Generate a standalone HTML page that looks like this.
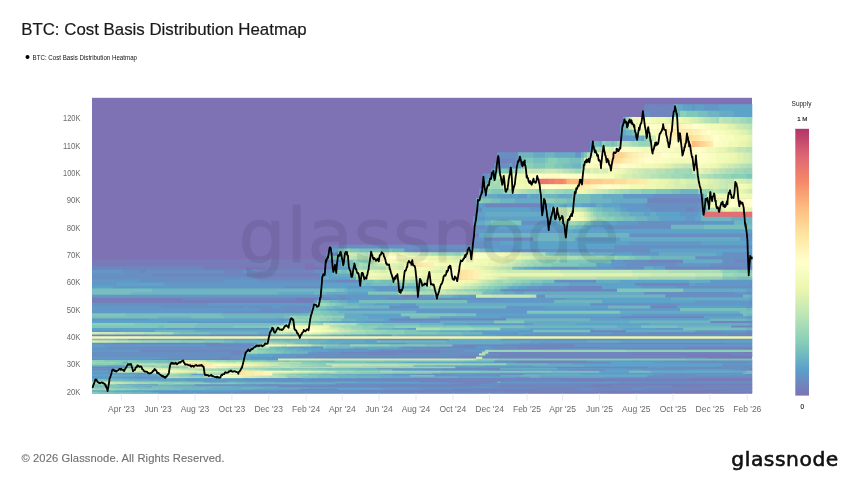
<!DOCTYPE html>
<html><head><meta charset="utf-8"><title>BTC: Cost Basis Distribution Heatmap</title>
<style>html,body{margin:0;padding:0;background:#fff}svg{display:block}text{font-family:"Liberation Sans",sans-serif}text.dj{font-family:"DejaVu Sans","Liberation Sans",sans-serif}</style></head>
<body><svg width="860" height="484" viewBox="0 0 860 484">
<defs><linearGradient id="cb" x1="0" y1="0" x2="0" y2="1"><stop offset="0%" stop-color="#b13468"/><stop offset="10%" stop-color="#dd6572"/><stop offset="20%" stop-color="#f68a69"/><stop offset="30%" stop-color="#fdbe81"/><stop offset="40%" stop-color="#fee6a2"/><stop offset="50%" stop-color="#ffffcc"/><stop offset="60%" stop-color="#ebf7ad"/><stop offset="70%" stop-color="#bce4b6"/><stop offset="80%" stop-color="#85ceb7"/><stop offset="90%" stop-color="#5ba0ca"/><stop offset="100%" stop-color="#7e72b5"/></linearGradient></defs>
<rect width="860" height="484" fill="#fff"/>
<text x="21.2" y="34.7" font-size="17" fill="#1a1a1a" stroke="#1a1a1a" stroke-width="0.2" textLength="285.5" lengthAdjust="spacingAndGlyphs">BTC: Cost Basis Distribution Heatmap</text>
<circle cx="27.5" cy="57.0" r="2.0" fill="#000"/>
<text x="32.6" y="60.0" font-size="7.6" fill="#111" textLength="104.4" lengthAdjust="spacingAndGlyphs">BTC: Cost Basis Distribution Heatmap</text>
<g>
<rect x="92.0" y="97.8" width="660.0" height="295.8" fill="#7e72b5"/>
<path fill="#777cb9" d="M605.0 392.59H752.3V393.60H605.0zM527.0 391.57H752.3V393.04H527.0zM599.0 390.52H719.3V392.02H599.0zM488.0 389.46H578.3V390.97H488.0zM677.0 389.46H728.3V390.97H677.0zM749.0 387.26H752.3V388.82H749.0zM590.0 384.99H611.3V386.58H590.0zM671.0 384.99H704.3V386.58H671.0zM593.0 383.81H752.3V385.44H593.0zM443.0 380.17H449.3V381.86H443.0zM566.0 380.17H605.3V381.86H566.0zM689.0 380.17H752.3V381.86H689.0zM560.0 378.90H752.3V380.62H560.0zM689.0 377.62H752.3V379.35H689.0zM539.0 356.80H680.3V358.93H539.0zM686.0 355.10H752.3V357.25H686.0zM632.0 353.36H731.3V355.55H632.0zM743.0 351.58H752.3V353.81H743.0zM746.0 347.93H752.3V350.23H746.0zM92.0 300.04H314.3V303.23H92.0zM92.0 297.25H182.3V300.49H92.0zM296.0 297.25H317.3V300.49H296.0zM245.0 272.95H320.3V276.64H245.0zM203.0 266.28H245.3V270.10H203.0zM266.0 266.28H305.3V270.10H266.0zM323.0 266.28H332.3V270.10H323.0zM92.0 262.85H305.3V266.73H92.0zM314.0 262.85H323.3V266.73H314.0zM92.0 259.35H323.3V263.30H92.0z"/>
<path fill="#7085be" d="M341.0 392.59H359.3V393.60H341.0zM506.0 392.59H605.3V393.60H506.0zM383.0 391.57H527.3V393.04H383.0zM155.0 390.52H179.3V392.02H155.0zM338.0 390.52H599.3V392.02H338.0zM719.0 390.52H752.3V392.02H719.0zM362.0 389.46H488.3V390.97H362.0zM578.0 389.46H677.3V390.97H578.0zM728.0 389.46H752.3V390.97H728.0zM299.0 388.37H338.3V389.91H299.0zM452.0 388.37H578.3V389.91H452.0zM593.0 388.37H632.3V389.91H593.0zM641.0 388.37H752.3V389.91H641.0zM536.0 387.26H629.3V388.82H536.0zM650.0 387.26H749.3V388.82H650.0zM278.0 386.13H386.3V387.71H278.0zM494.0 386.13H644.3V387.71H494.0zM671.0 386.13H752.3V387.71H671.0zM329.0 384.99H338.3V386.58H329.0zM377.0 384.99H590.3V386.58H377.0zM611.0 384.99H671.3V386.58H611.0zM704.0 384.99H752.3V386.58H704.0zM260.0 383.81H281.3V385.44H260.0zM335.0 383.81H479.3V385.44H335.0zM500.0 383.81H593.3V385.44H500.0zM464.0 382.62H494.3V384.26H464.0zM617.0 382.62H752.3V384.26H617.0zM449.0 381.41H497.3V383.07H449.0zM380.0 380.17H443.3V381.86H380.0zM449.0 380.17H566.3V381.86H449.0zM605.0 380.17H689.3V381.86H605.0zM308.0 378.90H560.3V380.62H308.0zM407.0 377.62H689.3V379.35H407.0zM92.0 376.31H110.3V378.07H92.0zM128.0 376.31H161.3V378.07H128.0zM92.0 372.22H110.3V374.06H92.0zM107.0 369.36H110.3V371.26H107.0zM569.0 369.36H605.3V371.26H569.0zM443.0 367.90H500.3V369.81H443.0zM749.0 367.90H752.3V369.81H749.0zM92.0 366.40H119.3V368.35H92.0zM557.0 366.40H647.3V368.35H557.0zM716.0 366.40H722.3V368.35H716.0zM515.0 361.74H611.3V363.77H515.0zM494.0 360.12H587.3V362.19H494.0zM152.0 358.48H239.3V360.57H152.0zM221.0 356.80H230.3V358.93H221.0zM272.0 356.80H275.3V358.93H272.0zM314.0 356.80H476.3V358.93H314.0zM482.0 356.80H539.3V358.93H482.0zM680.0 356.80H707.3V358.93H680.0zM458.0 355.10H686.3V357.25H458.0zM230.0 353.36H242.3V355.55H230.0zM368.0 353.36H395.3V355.55H368.0zM500.0 353.36H632.3V355.55H500.0zM731.0 353.36H752.3V355.55H731.0zM230.0 351.58H245.3V353.81H230.0zM341.0 351.58H440.3V353.81H341.0zM479.0 351.58H482.3V353.81H479.0zM488.0 351.58H743.3V353.81H488.0zM140.0 349.78H245.3V352.03H140.0zM380.0 349.78H440.3V352.03H380.0zM494.0 347.93H560.3V350.23H494.0zM623.0 347.93H746.3V350.23H623.0zM440.0 346.06H476.3V348.38H440.0zM518.0 346.06H602.3V348.38H518.0zM686.0 346.06H752.3V348.38H686.0zM206.0 344.15H254.3V346.51H206.0zM464.0 344.15H575.3V346.51H464.0zM113.0 342.20H188.3V344.60H113.0zM200.0 342.20H221.3V344.60H200.0zM617.0 342.20H725.3V344.60H617.0zM377.0 338.19H449.3V340.66H377.0zM551.0 338.19H626.3V340.66H551.0zM92.0 334.03H149.3V336.58H92.0zM206.0 334.03H269.3V336.58H206.0zM728.0 334.03H752.3V336.58H728.0zM647.0 331.88H722.3V334.48H647.0zM746.0 331.88H752.3V334.48H746.0zM590.0 329.70H626.3V332.33H590.0zM731.0 325.21H752.3V327.93H731.0zM710.0 320.55H752.3V323.35H710.0zM389.0 318.15H506.3V321.00H389.0zM620.0 315.71H704.3V318.60H620.0zM650.0 305.46H677.3V308.55H650.0zM182.0 297.25H296.3V300.49H182.0zM317.0 297.25H329.3V300.49H317.0zM341.0 297.25H344.3V300.49H341.0zM401.0 294.41H416.3V297.70H401.0zM512.0 288.57H617.3V291.97H512.0zM566.0 285.56H602.3V289.02H566.0zM635.0 282.50H689.3V286.01H635.0zM335.0 279.37H356.3V282.95H335.0zM593.0 279.37H596.3V282.95H593.0zM254.0 276.19H320.3V279.82H254.0zM152.0 272.95H245.3V276.64H152.0zM140.0 269.65H146.3V273.40H140.0zM224.0 269.65H242.3V273.40H224.0zM257.0 269.65H314.3V273.40H257.0zM92.0 266.28H203.3V270.10H92.0zM332.0 266.28H335.3V270.10H332.0zM665.0 266.28H752.3V270.10H665.0zM323.0 262.85H332.3V266.73H323.0zM323.0 259.35H326.3V263.30H323.0zM647.0 259.35H683.3V263.30H647.0zM734.0 259.35H746.3V263.30H734.0zM329.0 252.16H335.3V256.24H329.0zM413.0 248.46H467.3V252.61H413.0zM518.0 248.46H536.3V252.61H518.0zM329.0 244.69H344.3V248.91H329.0zM485.0 236.93H533.3V241.30H485.0zM473.0 232.94H479.3V237.38H473.0zM476.0 207.36H482.3V212.28H476.0zM686.0 207.36H695.3V212.28H686.0zM485.0 202.81H542.3V207.81H485.0zM647.0 198.17H704.3V203.26H647.0zM512.0 163.12H515.3V168.87H512.0zM497.0 157.73H515.3V163.57H497.0zM650.0 110.71H671.3V117.43H650.0zM644.0 104.31H674.3V111.16H644.0z"/>
<path fill="#688fc2" d="M191.0 392.59H341.3V393.60H191.0zM359.0 392.59H506.3V393.60H359.0zM203.0 391.57H383.3V393.04H203.0zM125.0 390.52H155.3V392.02H125.0zM242.0 390.52H338.3V392.02H242.0zM278.0 389.46H362.3V390.97H278.0zM419.0 388.37H452.3V389.91H419.0zM578.0 388.37H593.3V389.91H578.0zM632.0 388.37H641.3V389.91H632.0zM416.0 387.26H536.3V388.82H416.0zM629.0 387.26H650.3V388.82H629.0zM386.0 386.13H470.3V387.71H386.0zM644.0 386.13H671.3V387.71H644.0zM257.0 384.99H329.3V386.58H257.0zM338.0 384.99H377.3V386.58H338.0zM194.0 383.81H260.3V385.44H194.0zM281.0 383.81H335.3V385.44H281.0zM479.0 383.81H500.3V385.44H479.0zM449.0 382.62H464.3V384.26H449.0zM494.0 382.62H617.3V384.26H494.0zM419.0 381.41H449.3V383.07H419.0zM617.0 381.41H752.3V383.07H617.0zM269.0 380.17H380.3V381.86H269.0zM197.0 378.90H308.3V380.62H197.0zM290.0 377.62H302.3V379.35H290.0zM356.0 377.62H407.3V379.35H356.0zM110.0 376.31H128.3V378.07H110.0zM647.0 376.31H752.3V378.07H647.0zM494.0 374.97H500.3V376.76H494.0zM647.0 374.97H752.3V376.76H647.0zM416.0 373.61H455.3V375.42H416.0zM476.0 373.61H524.3V375.42H476.0zM662.0 373.61H695.3V375.42H662.0zM746.0 373.61H752.3V375.42H746.0zM140.0 372.22H143.3V374.06H140.0zM524.0 372.22H545.3V374.06H524.0zM695.0 372.22H743.3V374.06H695.0zM92.0 369.36H107.3V371.26H92.0zM110.0 369.36H113.3V371.26H110.0zM488.0 369.36H521.3V371.26H488.0zM740.0 369.36H752.3V371.26H740.0zM92.0 367.90H113.3V369.81H92.0zM377.0 367.90H443.3V369.81H377.0zM626.0 367.90H749.3V369.81H626.0zM119.0 366.40H125.3V368.35H119.0zM554.0 366.40H557.3V368.35H554.0zM665.0 366.40H716.3V368.35H665.0zM722.0 366.40H752.3V368.35H722.0zM722.0 364.87H752.3V366.85H722.0zM689.0 361.74H749.3V363.77H689.0zM632.0 360.12H638.3V362.19H632.0zM662.0 360.12H752.3V362.19H662.0zM92.0 358.48H152.3V360.57H92.0zM167.0 356.80H221.3V358.93H167.0zM230.0 356.80H242.3V358.93H230.0zM251.0 356.80H272.3V358.93H251.0zM275.0 356.80H314.3V358.93H275.0zM92.0 355.10H242.3V357.25H92.0zM296.0 355.10H458.3V357.25H296.0zM92.0 353.36H230.3V355.55H92.0zM242.0 353.36H245.3V355.55H242.0zM305.0 353.36H368.3V355.55H305.0zM395.0 353.36H479.3V355.55H395.0zM485.0 353.36H500.3V355.55H485.0zM92.0 351.58H230.3V353.81H92.0zM317.0 351.58H341.3V353.81H317.0zM440.0 351.58H479.3V353.81H440.0zM368.0 349.78H380.3V352.03H368.0zM440.0 349.78H464.3V352.03H440.0zM92.0 347.93H248.3V350.23H92.0zM347.0 347.93H368.3V350.23H347.0zM413.0 347.93H494.3V350.23H413.0zM560.0 347.93H623.3V350.23H560.0zM107.0 346.06H251.3V348.38H107.0zM311.0 346.06H323.3V348.38H311.0zM401.0 346.06H440.3V348.38H401.0zM491.0 346.06H518.3V348.38H491.0zM602.0 346.06H686.3V348.38H602.0zM452.0 344.15H464.3V346.51H452.0zM92.0 342.20H113.3V344.60H92.0zM188.0 342.20H200.3V344.60H188.0zM539.0 342.20H617.3V344.60H539.0zM725.0 342.20H752.3V344.60H725.0zM503.0 338.19H551.3V340.66H503.0zM626.0 338.19H752.3V340.66H626.0zM149.0 334.03H206.3V336.58H149.0zM269.0 334.03H272.3V336.58H269.0zM524.0 334.03H728.3V336.58H524.0zM512.0 331.88H518.3V334.48H512.0zM611.0 331.88H647.3V334.48H611.0zM722.0 331.88H746.3V334.48H722.0zM746.0 329.70H752.3V332.33H746.0zM224.0 310.68H302.3V313.67H224.0zM260.0 308.10H311.3V311.13H260.0zM161.0 305.46H245.3V308.55H161.0zM248.0 305.46H272.3V308.55H248.0zM281.0 305.46H311.3V308.55H281.0zM389.0 305.46H419.3V308.55H389.0zM92.0 302.78H209.3V305.91H92.0zM311.0 302.78H314.3V305.91H311.0zM590.0 302.78H680.3V305.91H590.0zM749.0 302.78H752.3V305.91H749.0zM749.0 300.04H752.3V303.23H749.0zM329.0 297.25H341.3V300.49H329.0zM344.0 297.25H350.3V300.49H344.0zM389.0 297.25H497.3V300.49H389.0zM338.0 294.41H347.3V297.70H338.0zM416.0 294.41H422.3V297.70H416.0zM536.0 294.41H545.3V297.70H536.0zM665.0 294.41H743.3V297.70H665.0zM644.0 291.52H734.3V294.86H644.0zM746.0 291.52H752.3V294.86H746.0zM503.0 288.57H512.3V291.97H503.0zM284.0 285.56H320.3V289.02H284.0zM539.0 285.56H566.3V289.02H539.0zM677.0 285.56H752.3V289.02H677.0zM749.0 282.50H752.3V286.01H749.0zM140.0 279.37H224.3V282.95H140.0zM257.0 279.37H320.3V282.95H257.0zM323.0 279.37H335.3V282.95H323.0zM356.0 279.37H359.3V282.95H356.0zM554.0 279.37H593.3V282.95H554.0zM92.0 276.19H254.3V279.82H92.0zM92.0 272.95H152.3V276.64H92.0zM320.0 272.95H323.3V276.64H320.0zM122.0 269.65H140.3V273.40H122.0zM146.0 269.65H224.3V273.40H146.0zM242.0 269.65H257.3V273.40H242.0zM314.0 269.65H323.3V273.40H314.0zM551.0 266.28H578.3V270.10H551.0zM614.0 266.28H644.3V270.10H614.0zM332.0 262.85H335.3V266.73H332.0zM626.0 262.85H677.3V266.73H626.0zM710.0 262.85H749.3V266.73H710.0zM326.0 259.35H332.3V263.30H326.0zM623.0 259.35H647.3V263.30H623.0zM722.0 259.35H734.3V263.30H722.0zM746.0 259.35H749.3V263.30H746.0zM695.0 255.79H749.3V259.80H695.0zM326.0 252.16H329.3V256.24H326.0zM335.0 252.16H338.3V256.24H335.0zM722.0 252.16H749.3V256.24H722.0zM404.0 248.46H413.3V252.61H404.0zM509.0 248.46H518.3V252.61H509.0zM536.0 248.46H650.3V252.61H536.0zM344.0 244.69H485.3V248.91H344.0zM614.0 244.69H752.3V248.91H614.0zM473.0 240.85H485.3V245.14H473.0zM629.0 232.94H752.3V237.38H629.0zM473.0 224.74H485.3V229.33H473.0zM608.0 224.74H671.3V229.33H608.0zM521.0 220.51H548.3V225.19H521.0zM638.0 220.51H704.3V225.19H638.0zM650.0 207.36H686.3V212.28H650.0zM695.0 207.36H701.3V212.28H695.0zM644.0 202.81H698.3V207.81H644.0zM653.0 193.44H698.3V198.62H653.0zM482.0 173.61H488.3V179.16H482.0zM494.0 163.12H509.3V168.87H494.0zM515.0 157.73H518.3V163.57H515.0zM497.0 152.23H518.3V158.18H497.0zM590.0 140.92H593.3V147.08H590.0zM641.0 110.71H650.3V117.43H641.0zM671.0 110.71H674.3V117.43H671.0z"/>
<path fill="#6198c7" d="M158.0 392.59H191.3V393.60H158.0zM152.0 391.57H203.3V393.04H152.0zM101.0 390.52H107.3V392.02H101.0zM110.0 390.52H125.3V392.02H110.0zM179.0 390.52H242.3V392.02H179.0zM182.0 389.46H188.3V390.97H182.0zM236.0 389.46H278.3V390.97H236.0zM383.0 388.37H419.3V389.91H383.0zM380.0 387.26H416.3V388.82H380.0zM470.0 386.13H494.3V387.71H470.0zM197.0 384.99H257.3V386.58H197.0zM137.0 383.81H158.3V385.44H137.0zM335.0 382.62H449.3V384.26H335.0zM203.0 381.41H227.3V383.07H203.0zM500.0 381.41H617.3V383.07H500.0zM245.0 380.17H269.3V381.86H245.0zM185.0 378.90H197.3V380.62H185.0zM92.0 377.62H95.3V379.35H92.0zM137.0 377.62H164.3V379.35H137.0zM209.0 377.62H212.3V379.35H209.0zM257.0 377.62H290.3V379.35H257.0zM311.0 377.62H356.3V379.35H311.0zM515.0 376.31H530.3V378.07H515.0zM605.0 376.31H647.3V378.07H605.0zM434.0 374.97H494.3V376.76H434.0zM137.0 373.61H146.3V375.42H137.0zM386.0 373.61H416.3V375.42H386.0zM455.0 373.61H476.3V375.42H455.0zM653.0 373.61H662.3V375.42H653.0zM695.0 373.61H746.3V375.42H695.0zM110.0 372.22H113.3V374.06H110.0zM128.0 372.22H140.3V374.06H128.0zM143.0 372.22H146.3V374.06H143.0zM500.0 372.22H524.3V374.06H500.0zM602.0 372.22H695.3V374.06H602.0zM107.0 370.81H110.3V372.67H107.0zM422.0 369.36H488.3V371.26H422.0zM521.0 369.36H569.3V371.26H521.0zM641.0 369.36H686.3V371.26H641.0zM734.0 369.36H740.3V371.26H734.0zM113.0 367.90H116.3V369.81H113.0zM557.0 367.90H626.3V369.81H557.0zM455.0 366.40H470.3V368.35H455.0zM476.0 366.40H554.3V368.35H476.0zM647.0 366.40H665.3V368.35H647.0zM722.0 363.32H752.3V365.32H722.0zM473.0 361.74H476.3V363.77H473.0zM491.0 361.74H515.3V363.77H491.0zM653.0 361.74H689.3V363.77H653.0zM749.0 361.74H752.3V363.77H749.0zM587.0 360.12H632.3V362.19H587.0zM638.0 360.12H662.3V362.19H638.0zM239.0 358.48H242.3V360.57H239.0zM266.0 358.48H278.3V360.57H266.0zM92.0 356.80H167.3V358.93H92.0zM272.0 355.10H296.3V357.25H272.0zM275.0 353.36H305.3V355.55H275.0zM308.0 351.58H317.3V353.81H308.0zM92.0 349.78H140.3V352.03H92.0zM245.0 349.78H248.3V352.03H245.0zM329.0 349.78H368.3V352.03H329.0zM464.0 349.78H485.3V352.03H464.0zM320.0 347.93H347.3V350.23H320.0zM377.0 347.93H413.3V350.23H377.0zM92.0 346.06H107.3V348.38H92.0zM299.0 346.06H311.3V348.38H299.0zM476.0 346.06H491.3V348.38H476.0zM104.0 344.15H206.3V346.51H104.0zM575.0 344.15H752.3V346.51H575.0zM221.0 342.20H254.3V344.60H221.0zM377.0 342.20H407.3V344.60H377.0zM521.0 342.20H539.3V344.60H521.0zM185.0 338.19H203.3V340.66H185.0zM257.0 338.19H266.3V340.66H257.0zM500.0 338.19H503.3V340.66H500.0zM290.0 334.03H296.3V336.58H290.0zM368.0 334.03H392.3V336.58H368.0zM497.0 334.03H524.3V336.58H497.0zM482.0 331.88H512.3V334.48H482.0zM530.0 331.88H611.3V334.48H530.0zM92.0 329.70H119.3V332.33H92.0zM518.0 329.70H533.3V332.33H518.0zM695.0 329.70H746.3V332.33H695.0zM167.0 327.48H269.3V330.15H167.0zM656.0 327.48H683.3V330.15H656.0zM467.0 322.90H533.3V325.66H467.0zM167.0 320.55H284.3V323.35H167.0zM365.0 320.55H440.3V323.35H365.0zM92.0 318.15H149.3V321.00H92.0zM278.0 318.15H290.3V321.00H278.0zM404.0 315.71H410.3V318.60H404.0zM500.0 315.71H620.3V318.60H500.0zM746.0 315.71H752.3V318.60H746.0zM632.0 313.22H743.3V316.16H632.0zM92.0 310.68H224.3V313.67H92.0zM302.0 310.68H311.3V313.67H302.0zM416.0 310.68H527.3V313.67H416.0zM92.0 308.10H260.3V311.13H92.0zM347.0 308.10H680.3V311.13H347.0zM92.0 305.46H161.3V308.55H92.0zM245.0 305.46H248.3V308.55H245.0zM272.0 305.46H281.3V308.55H272.0zM506.0 305.46H545.3V308.55H506.0zM746.0 305.46H752.3V308.55H746.0zM209.0 302.78H311.3V305.91H209.0zM401.0 302.78H416.3V305.91H401.0zM680.0 302.78H749.3V305.91H680.0zM314.0 300.04H317.3V303.23H314.0zM467.0 300.04H554.3V303.23H467.0zM695.0 300.04H749.3V303.23H695.0zM350.0 297.25H389.3V300.49H350.0zM497.0 297.25H566.3V300.49H497.0zM92.0 294.41H338.3V297.70H92.0zM347.0 294.41H401.3V297.70H347.0zM422.0 294.41H434.3V297.70H422.0zM470.0 294.41H476.3V297.70H470.0zM734.0 291.52H746.3V294.86H734.0zM377.0 288.57H398.3V291.97H377.0zM500.0 288.57H503.3V291.97H500.0zM113.0 285.56H284.3V289.02H113.0zM347.0 285.56H359.3V289.02H347.0zM371.0 285.56H398.3V289.02H371.0zM527.0 285.56H539.3V289.02H527.0zM641.0 285.56H677.3V289.02H641.0zM92.0 282.50H116.3V286.01H92.0zM164.0 282.50H320.3V286.01H164.0zM695.0 282.50H749.3V286.01H695.0zM92.0 279.37H140.3V282.95H92.0zM224.0 279.37H257.3V282.95H224.0zM320.0 279.37H323.3V282.95H320.0zM710.0 279.37H752.3V282.95H710.0zM320.0 276.19H323.3V279.82H320.0zM92.0 269.65H122.3V273.40H92.0zM338.0 266.28H341.3V270.10H338.0zM539.0 266.28H551.3V270.10H539.0zM578.0 266.28H614.3V270.10H578.0zM335.0 262.85H341.3V266.73H335.0zM611.0 262.85H626.3V266.73H611.0zM677.0 262.85H710.3V266.73H677.0zM749.0 262.85H752.3V266.73H749.0zM332.0 259.35H335.3V263.30H332.0zM611.0 259.35H623.3V263.30H611.0zM749.0 259.35H752.3V263.30H749.0zM632.0 252.16H659.3V256.24H632.0zM749.0 252.16H752.3V256.24H749.0zM500.0 248.46H509.3V252.61H500.0zM485.0 244.69H518.3V248.91H485.0zM485.0 240.85H500.3V245.14H485.0zM629.0 240.85H701.3V245.14H629.0zM473.0 236.93H485.3V241.30H473.0zM575.0 236.93H620.3V241.30H575.0zM740.0 236.93H752.3V241.30H740.0zM476.0 228.88H485.3V233.39H476.0zM488.0 228.88H566.3V233.39H488.0zM485.0 224.74H494.3V229.33H485.0zM593.0 224.74H608.3V229.33H593.0zM548.0 220.51H557.3V225.19H548.0zM617.0 220.51H638.3V225.19H617.0zM704.0 220.51H734.3V225.19H704.0zM473.0 216.21H485.3V220.96H473.0zM686.0 216.21H695.3V220.96H686.0zM680.0 211.83H698.3V216.66H680.0zM530.0 207.36H545.3V212.28H530.0zM626.0 207.36H650.3V212.28H626.0zM476.0 202.81H479.3V207.81H476.0zM482.0 202.81H485.3V207.81H482.0zM542.0 202.81H545.3V207.81H542.0zM590.0 202.81H596.3V207.81H590.0zM620.0 202.81H644.3V207.81H620.0zM698.0 202.81H704.3V207.81H698.0zM509.0 193.44H512.3V198.62H509.0zM518.0 193.44H527.3V198.62H518.0zM623.0 193.44H653.3V198.62H623.0zM698.0 193.44H701.3V198.62H698.0zM479.0 188.62H485.3V193.89H479.0zM488.0 173.61H491.3V179.16H488.0zM491.0 168.42H494.3V174.06H491.0zM515.0 163.12H518.3V168.87H515.0zM575.0 152.23H581.3V158.18H575.0zM620.0 135.10H635.3V141.37H620.0zM692.0 104.31H695.3V111.16H692.0zM704.0 104.31H719.3V111.16H704.0z"/>
<path fill="#5da2c9" d="M149.0 391.57H152.3V393.04H149.0zM92.0 390.52H101.3V392.02H92.0zM107.0 390.52H110.3V392.02H107.0zM152.0 389.46H182.3V390.97H152.0zM188.0 389.46H236.3V390.97H188.0zM254.0 388.37H299.3V389.91H254.0zM338.0 388.37H383.3V389.91H338.0zM308.0 387.26H380.3V388.82H308.0zM176.0 384.99H197.3V386.58H176.0zM125.0 383.81H137.3V385.44H125.0zM275.0 381.41H335.3V383.07H275.0zM356.0 381.41H419.3V383.07H356.0zM185.0 380.17H245.3V381.86H185.0zM149.0 378.90H185.3V380.62H149.0zM95.0 377.62H110.3V379.35H95.0zM122.0 377.62H137.3V379.35H122.0zM185.0 377.62H209.3V379.35H185.0zM212.0 377.62H215.3V379.35H212.0zM242.0 377.62H257.3V379.35H242.0zM302.0 377.62H311.3V379.35H302.0zM161.0 376.31H164.3V378.07H161.0zM458.0 376.31H515.3V378.07H458.0zM539.0 376.31H605.3V378.07H539.0zM92.0 374.97H110.3V376.76H92.0zM134.0 374.97H158.3V376.76H134.0zM392.0 374.97H410.3V376.76H392.0zM92.0 373.61H137.3V375.42H92.0zM146.0 373.61H149.3V375.42H146.0zM191.0 373.61H203.3V375.42H191.0zM380.0 373.61H386.3V375.42H380.0zM581.0 373.61H653.3V375.42H581.0zM113.0 372.22H128.3V374.06H113.0zM440.0 372.22H500.3V374.06H440.0zM545.0 372.22H602.3V374.06H545.0zM92.0 370.81H107.3V372.67H92.0zM599.0 370.81H629.3V372.67H599.0zM113.0 369.36H116.3V371.26H113.0zM392.0 369.36H422.3V371.26H392.0zM605.0 369.36H641.3V371.26H605.0zM686.0 369.36H734.3V371.26H686.0zM125.0 366.40H131.3V368.35H125.0zM470.0 366.40H476.3V368.35H470.0zM107.0 364.87H125.3V366.85H107.0zM485.0 364.87H533.3V366.85H485.0zM584.0 364.87H722.3V366.85H584.0zM572.0 363.32H722.3V365.32H572.0zM404.0 361.74H473.3V363.77H404.0zM476.0 361.74H491.3V363.77H476.0zM611.0 361.74H653.3V363.77H611.0zM242.0 358.48H266.3V360.57H242.0zM242.0 356.80H251.3V358.93H242.0zM248.0 355.10H272.3V357.25H248.0zM257.0 353.36H275.3V355.55H257.0zM311.0 349.78H329.3V352.03H311.0zM302.0 347.93H320.3V350.23H302.0zM368.0 347.93H377.3V350.23H368.0zM251.0 346.06H254.3V348.38H251.0zM290.0 346.06H299.3V348.38H290.0zM398.0 346.06H401.3V348.38H398.0zM92.0 344.15H104.3V346.51H92.0zM254.0 342.20H257.3V344.60H254.0zM341.0 342.20H377.3V344.60H341.0zM503.0 342.20H521.3V344.60H503.0zM365.0 340.21H377.3V342.65H365.0zM530.0 340.21H587.3V342.65H530.0zM620.0 340.21H752.3V342.65H620.0zM128.0 338.19H185.3V340.66H128.0zM224.0 338.19H257.3V340.66H224.0zM329.0 338.19H377.3V340.66H329.0zM272.0 334.03H290.3V336.58H272.0zM344.0 334.03H368.3V336.58H344.0zM464.0 334.03H497.3V336.58H464.0zM518.0 331.88H530.3V334.48H518.0zM119.0 329.70H155.3V332.33H119.0zM470.0 329.70H518.3V332.33H470.0zM92.0 327.48H167.3V330.15H92.0zM407.0 327.48H416.3V330.15H407.0zM530.0 327.48H593.3V330.15H530.0zM623.0 327.48H656.3V330.15H623.0zM443.0 322.90H467.3V325.66H443.0zM575.0 322.90H650.3V325.66H575.0zM749.0 322.90H752.3V325.66H749.0zM92.0 320.55H167.3V323.35H92.0zM284.0 320.55H287.3V323.35H284.0zM341.0 320.55H365.3V323.35H341.0zM149.0 318.15H278.3V321.00H149.0zM383.0 318.15H389.3V321.00H383.0zM590.0 318.15H710.3V321.00H590.0zM368.0 315.71H404.3V318.60H368.0zM440.0 315.71H500.3V318.60H440.0zM704.0 315.71H746.3V318.60H704.0zM362.0 313.22H401.3V316.16H362.0zM476.0 313.22H632.3V316.16H476.0zM335.0 308.10H347.3V311.13H335.0zM311.0 305.46H314.3V308.55H311.0zM545.0 305.46H608.3V308.55H545.0zM677.0 305.46H746.3V308.55H677.0zM374.0 302.78H401.3V305.91H374.0zM347.0 300.04H359.3V303.23H347.0zM602.0 300.04H695.3V303.23H602.0zM566.0 297.25H671.3V300.49H566.0zM749.0 297.25H752.3V300.49H749.0zM458.0 294.41H470.3V297.70H458.0zM347.0 291.52H368.3V294.86H347.0zM515.0 291.52H524.3V294.86H515.0zM374.0 288.57H377.3V291.97H374.0zM746.0 288.57H752.3V291.97H746.0zM92.0 285.56H113.3V289.02H92.0zM320.0 285.56H347.3V289.02H320.0zM359.0 285.56H371.3V289.02H359.0zM398.0 285.56H401.3V289.02H398.0zM518.0 285.56H527.3V289.02H518.0zM602.0 285.56H641.3V289.02H602.0zM116.0 282.50H164.3V286.01H116.0zM320.0 282.50H359.3V286.01H320.0zM569.0 282.50H635.3V286.01H569.0zM689.0 282.50H695.3V286.01H689.0zM359.0 279.37H362.3V282.95H359.0zM620.0 279.37H689.3V282.95H620.0zM329.0 276.19H350.3V279.82H329.0zM326.0 272.95H332.3V276.64H326.0zM323.0 269.65H332.3V273.40H323.0zM335.0 266.28H338.3V270.10H335.0zM341.0 266.28H347.3V270.10H341.0zM533.0 266.28H539.3V270.10H533.0zM653.0 266.28H665.3V270.10H653.0zM596.0 262.85H611.3V266.73H596.0zM335.0 259.35H341.3V263.30H335.0zM614.0 252.16H632.3V256.24H614.0zM716.0 252.16H722.3V256.24H716.0zM332.0 248.46H338.3V252.61H332.0zM491.0 248.46H500.3V252.61H491.0zM650.0 248.46H752.3V252.61H650.0zM518.0 244.69H614.3V248.91H518.0zM500.0 240.85H629.3V245.14H500.0zM701.0 240.85H752.3V245.14H701.0zM473.0 228.88H476.3V233.39H473.0zM485.0 228.88H488.3V233.39H485.0zM572.0 228.88H752.3V233.39H572.0zM494.0 224.74H563.3V229.33H494.0zM587.0 224.74H593.3V229.33H587.0zM557.0 220.51H560.3V225.19H557.0zM602.0 220.51H617.3V225.19H602.0zM485.0 216.21H551.3V220.96H485.0zM659.0 216.21H686.3V220.96H659.0zM695.0 216.21H701.3V220.96H695.0zM476.0 211.83H485.3V216.66H476.0zM644.0 211.83H650.3V216.66H644.0zM656.0 211.83H680.3V216.66H656.0zM698.0 211.83H701.3V216.66H698.0zM482.0 207.36H530.3V212.28H482.0zM620.0 207.36H626.3V212.28H620.0zM701.0 207.36H704.3V212.28H701.0zM479.0 202.81H482.3V207.81H479.0zM548.0 202.81H551.3V207.81H548.0zM581.0 202.81H590.3V207.81H581.0zM602.0 202.81H620.3V207.81H602.0zM497.0 193.44H509.3V198.62H497.0zM512.0 193.44H518.3V198.62H512.0zM530.0 193.44H539.3V198.62H530.0zM701.0 193.44H704.3V198.62H701.0zM482.0 178.71H488.3V184.16H482.0zM509.0 163.12H512.3V168.87H509.0zM518.0 163.12H521.3V168.87H518.0zM590.0 146.63H593.3V152.68H590.0zM620.0 123.14H623.3V129.63H620.0zM734.0 110.71H752.3V117.43H734.0zM683.0 104.31H692.3V111.16H683.0zM695.0 104.31H704.3V111.16H695.0zM719.0 104.31H752.3V111.16H719.0z"/>
<path fill="#65abc5" d="M143.0 391.57H149.3V393.04H143.0zM131.0 389.46H152.3V390.97H131.0zM206.0 388.37H254.3V389.91H206.0zM212.0 387.26H242.3V388.82H212.0zM263.0 387.26H308.3V388.82H263.0zM146.0 386.13H152.3V387.71H146.0zM233.0 386.13H278.3V387.71H233.0zM152.0 384.99H176.3V386.58H152.0zM116.0 383.81H125.3V385.44H116.0zM302.0 382.62H335.3V384.26H302.0zM236.0 381.41H275.3V383.07H236.0zM335.0 381.41H356.3V383.07H335.0zM158.0 380.17H185.3V381.86H158.0zM92.0 378.90H95.3V380.62H92.0zM128.0 378.90H149.3V380.62H128.0zM110.0 377.62H122.3V379.35H110.0zM170.0 377.62H185.3V379.35H170.0zM215.0 377.62H218.3V379.35H215.0zM224.0 377.62H242.3V379.35H224.0zM380.0 376.31H458.3V378.07H380.0zM530.0 376.31H539.3V378.07H530.0zM116.0 374.97H134.3V376.76H116.0zM356.0 374.97H392.3V376.76H356.0zM500.0 374.97H521.3V376.76H500.0zM539.0 374.97H647.3V376.76H539.0zM149.0 373.61H158.3V375.42H149.0zM344.0 373.61H380.3V375.42H344.0zM524.0 373.61H581.3V375.42H524.0zM431.0 372.22H440.3V374.06H431.0zM650.0 370.81H746.3V372.67H650.0zM116.0 367.90H119.3V369.81H116.0zM350.0 367.90H377.3V369.81H350.0zM500.0 367.90H557.3V369.81H500.0zM131.0 366.40H134.3V368.35H131.0zM92.0 364.87H107.3V366.85H92.0zM434.0 364.87H485.3V366.85H434.0zM533.0 364.87H584.3V366.85H533.0zM548.0 363.32H572.3V365.32H548.0zM398.0 361.74H404.3V363.77H398.0zM242.0 355.10H248.3V357.25H242.0zM245.0 353.36H257.3V355.55H245.0zM296.0 349.78H311.3V352.03H296.0zM287.0 347.93H302.3V350.23H287.0zM281.0 346.06H290.3V348.38H281.0zM353.0 346.06H398.3V348.38H353.0zM254.0 344.15H257.3V346.51H254.0zM320.0 342.20H341.3V344.60H320.0zM407.0 342.20H503.3V344.60H407.0zM326.0 340.21H365.3V342.65H326.0zM446.0 340.21H530.3V342.65H446.0zM587.0 340.21H620.3V342.65H587.0zM203.0 338.19H224.3V340.66H203.0zM266.0 338.19H269.3V340.66H266.0zM272.0 338.19H299.3V340.66H272.0zM308.0 338.19H329.3V340.66H308.0zM449.0 338.19H500.3V340.66H449.0zM329.0 334.03H344.3V336.58H329.0zM398.0 334.03H464.3V336.58H398.0zM257.0 331.88H269.3V334.48H257.0zM194.0 329.70H269.3V332.33H194.0zM440.0 329.70H470.3V332.33H440.0zM626.0 329.70H695.3V332.33H626.0zM392.0 327.48H407.3V330.15H392.0zM500.0 327.48H530.3V330.15H500.0zM593.0 327.48H623.3V330.15H593.0zM617.0 325.21H641.3V327.93H617.0zM533.0 322.90H575.3V325.66H533.0zM650.0 322.90H749.3V325.66H650.0zM287.0 320.55H290.3V323.35H287.0zM329.0 320.55H341.3V323.35H329.0zM440.0 320.55H494.3V323.35H440.0zM524.0 320.55H629.3V323.35H524.0zM356.0 318.15H383.3V321.00H356.0zM746.0 318.15H752.3V321.00H746.0zM344.0 315.71H368.3V318.60H344.0zM344.0 313.22H362.3V316.16H344.0zM620.0 310.68H740.3V313.67H620.0zM326.0 308.10H335.3V311.13H326.0zM359.0 302.78H374.3V305.91H359.0zM416.0 302.78H590.3V305.91H416.0zM338.0 300.04H347.3V303.23H338.0zM671.0 297.25H749.3V300.49H671.0zM452.0 294.41H458.3V297.70H452.0zM749.0 294.41H752.3V297.70H749.0zM278.0 291.52H314.3V294.86H278.0zM326.0 291.52H347.3V294.86H326.0zM503.0 291.52H515.3V294.86H503.0zM524.0 291.52H644.3V294.86H524.0zM347.0 288.57H374.3V291.97H347.0zM683.0 288.57H746.3V291.97H683.0zM401.0 285.56H416.3V289.02H401.0zM509.0 285.56H518.3V289.02H509.0zM542.0 282.50H569.3V286.01H542.0zM596.0 279.37H620.3V282.95H596.0zM689.0 279.37H710.3V282.95H689.0zM323.0 276.19H329.3V279.82H323.0zM353.0 276.19H356.3V279.82H353.0zM323.0 272.95H326.3V276.64H323.0zM332.0 272.95H350.3V276.64H332.0zM347.0 266.28H350.3V270.10H347.0zM524.0 266.28H533.3V270.10H524.0zM644.0 266.28H653.3V270.10H644.0zM683.0 259.35H722.3V263.30H683.0zM749.0 255.79H752.3V259.80H749.0zM593.0 252.16H614.3V256.24H593.0zM659.0 252.16H716.3V256.24H659.0zM329.0 248.46H332.3V252.61H329.0zM485.0 248.46H491.3V252.61H485.0zM620.0 236.93H740.3V241.30H620.0zM479.0 232.94H485.3V237.38H479.0zM566.0 228.88H572.3V233.39H566.0zM584.0 224.74H587.3V229.33H584.0zM473.0 220.51H485.3V225.19H473.0zM593.0 220.51H602.3V225.19H593.0zM647.0 216.21H659.3V220.96H647.0zM731.0 216.21H743.3V220.96H731.0zM485.0 211.83H551.3V216.66H485.0zM629.0 211.83H644.3V216.66H629.0zM650.0 211.83H656.3V216.66H650.0zM548.0 207.36H551.3V212.28H548.0zM614.0 207.36H620.3V212.28H614.0zM545.0 202.81H548.3V207.81H545.0zM551.0 202.81H554.3V207.81H551.0zM563.0 202.81H581.3V207.81H563.0zM596.0 202.81H602.3V207.81H596.0zM515.0 198.17H539.3V203.26H515.0zM611.0 198.17H647.3V203.26H611.0zM704.0 198.17H707.3V203.26H704.0zM479.0 193.44H485.3V198.62H479.0zM488.0 193.44H497.3V198.62H488.0zM527.0 193.44H530.3V198.62H527.0zM557.0 193.44H572.3V198.62H557.0zM602.0 193.44H623.3V198.62H602.0zM482.0 183.71H485.3V189.07H482.0zM518.0 157.73H521.3V163.57H518.0zM533.0 152.23H545.3V158.18H533.0zM554.0 152.23H575.3V158.18H554.0zM599.0 140.92H602.3V147.08H599.0zM635.0 135.10H638.3V141.37H635.0zM641.0 135.10H644.3V141.37H641.0zM620.0 129.18H626.3V135.55H620.0zM623.0 116.98H626.3V123.59H623.0zM719.0 110.71H734.3V117.43H719.0zM677.0 104.31H683.3V111.16H677.0z"/>
<path fill="#6eb5c1" d="M131.0 392.59H158.3V393.60H131.0zM113.0 391.57H143.3V393.04H113.0zM92.0 389.46H107.3V390.97H92.0zM116.0 389.46H131.3V390.97H116.0zM182.0 388.37H206.3V389.91H182.0zM152.0 387.26H155.3V388.82H152.0zM173.0 387.26H212.3V388.82H173.0zM242.0 387.26H263.3V388.82H242.0zM131.0 386.13H146.3V387.71H131.0zM191.0 386.13H233.3V387.71H191.0zM134.0 384.99H152.3V386.58H134.0zM173.0 383.81H194.3V385.44H173.0zM245.0 382.62H302.3V384.26H245.0zM227.0 381.41H236.3V383.07H227.0zM497.0 381.41H500.3V383.07H497.0zM92.0 380.17H95.3V381.86H92.0zM134.0 380.17H158.3V381.86H134.0zM104.0 378.90H107.3V380.62H104.0zM113.0 378.90H128.3V380.62H113.0zM164.0 377.62H170.3V379.35H164.0zM218.0 377.62H224.3V379.35H218.0zM338.0 376.31H380.3V378.07H338.0zM110.0 374.97H116.3V376.76H110.0zM158.0 374.97H161.3V376.76H158.0zM332.0 374.97H356.3V376.76H332.0zM521.0 374.97H539.3V376.76H521.0zM203.0 373.61H206.3V375.42H203.0zM323.0 373.61H344.3V375.42H323.0zM146.0 372.22H149.3V374.06H146.0zM743.0 372.22H752.3V374.06H743.0zM317.0 367.90H350.3V369.81H317.0zM413.0 364.87H434.3V366.85H413.0zM506.0 363.32H548.3V365.32H506.0zM122.0 361.74H128.3V363.77H122.0zM365.0 361.74H398.3V363.77H365.0zM167.0 360.12H170.3V362.19H167.0zM284.0 360.12H290.3V362.19H284.0zM320.0 360.12H335.3V362.19H320.0zM464.0 360.12H494.3V362.19H464.0zM290.0 351.58H308.3V353.81H290.0zM284.0 349.78H296.3V352.03H284.0zM248.0 347.93H251.3V350.23H248.0zM275.0 347.93H287.3V350.23H275.0zM275.0 346.06H281.3V348.38H275.0zM326.0 346.06H353.3V348.38H326.0zM257.0 342.20H260.3V344.60H257.0zM308.0 342.20H320.3V344.60H308.0zM233.0 340.21H266.3V342.65H233.0zM308.0 340.21H326.3V342.65H308.0zM380.0 340.21H446.3V342.65H380.0zM116.0 338.19H128.3V340.66H116.0zM269.0 338.19H272.3V340.66H269.0zM299.0 338.19H308.3V340.66H299.0zM296.0 334.03H299.3V336.58H296.0zM320.0 334.03H329.3V336.58H320.0zM392.0 334.03H398.3V336.58H392.0zM209.0 331.88H257.3V334.48H209.0zM461.0 331.88H482.3V334.48H461.0zM155.0 329.70H194.3V332.33H155.0zM419.0 329.70H440.3V332.33H419.0zM377.0 327.48H392.3V330.15H377.0zM746.0 327.48H752.3V330.15H746.0zM524.0 325.21H617.3V327.93H524.0zM677.0 325.21H731.3V327.93H677.0zM272.0 322.90H275.3V325.66H272.0zM278.0 322.90H281.3V325.66H278.0zM419.0 322.90H443.3V325.66H419.0zM320.0 320.55H329.3V323.35H320.0zM629.0 320.55H710.3V323.35H629.0zM341.0 318.15H356.3V321.00H341.0zM506.0 318.15H590.3V321.00H506.0zM710.0 318.15H746.3V321.00H710.0zM158.0 315.71H191.3V318.60H158.0zM224.0 315.71H284.3V318.60H224.0zM428.0 315.71H440.3V318.60H428.0zM221.0 313.22H308.3V316.16H221.0zM746.0 313.22H752.3V316.16H746.0zM338.0 310.68H416.3V313.67H338.0zM311.0 308.10H314.3V311.13H311.0zM320.0 308.10H326.3V311.13H320.0zM746.0 308.10H752.3V311.13H746.0zM332.0 305.46H344.3V308.55H332.0zM359.0 305.46H389.3V308.55H359.0zM419.0 305.46H506.3V308.55H419.0zM608.0 305.46H650.3V308.55H608.0zM347.0 302.78H359.3V305.91H347.0zM329.0 300.04H338.3V303.23H329.0zM554.0 300.04H602.3V303.23H554.0zM434.0 294.41H437.3V297.70H434.0zM440.0 294.41H452.3V297.70H440.0zM545.0 294.41H665.3V297.70H545.0zM743.0 294.41H749.3V297.70H743.0zM131.0 291.52H278.3V294.86H131.0zM314.0 291.52H326.3V294.86H314.0zM491.0 291.52H503.3V294.86H491.0zM152.0 288.57H320.3V291.97H152.0zM344.0 288.57H347.3V291.97H344.0zM398.0 288.57H401.3V291.97H398.0zM494.0 288.57H500.3V291.97H494.0zM416.0 285.56H419.3V289.02H416.0zM506.0 285.56H509.3V289.02H506.0zM359.0 282.50H362.3V286.01H359.0zM365.0 282.50H371.3V286.01H365.0zM389.0 282.50H392.3V286.01H389.0zM530.0 282.50H542.3V286.01H530.0zM350.0 276.19H353.3V279.82H350.0zM332.0 269.65H335.3V273.40H332.0zM350.0 266.28H353.3V270.10H350.0zM518.0 266.28H524.3V270.10H518.0zM341.0 262.85H347.3V266.73H341.0zM341.0 259.35H344.3V263.30H341.0zM326.0 255.79H329.3V259.80H326.0zM650.0 255.79H695.3V259.80H650.0zM569.0 252.16H593.3V256.24H569.0zM392.0 248.46H404.3V252.61H392.0zM479.0 248.46H485.3V252.61H479.0zM533.0 236.93H575.3V241.30H533.0zM485.0 232.94H629.3V237.38H485.0zM563.0 224.74H566.3V229.33H563.0zM575.0 224.74H584.3V229.33H575.0zM671.0 224.74H704.3V229.33H671.0zM485.0 220.51H491.3V225.19H485.0zM590.0 220.51H593.3V225.19H590.0zM734.0 220.51H752.3V225.19H734.0zM551.0 216.21H557.3V220.96H551.0zM635.0 216.21H647.3V220.96H635.0zM701.0 216.21H731.3V220.96H701.0zM746.0 216.21H752.3V220.96H746.0zM620.0 211.83H629.3V216.66H620.0zM701.0 211.83H704.3V216.66H701.0zM545.0 207.36H548.3V212.28H545.0zM602.0 207.36H614.3V212.28H602.0zM704.0 207.36H707.3V212.28H704.0zM554.0 202.81H563.3V207.81H554.0zM476.0 198.17H479.3V203.26H476.0zM500.0 198.17H515.3V203.26H500.0zM539.0 198.17H542.3V203.26H539.0zM590.0 198.17H611.3V203.26H590.0zM485.0 193.44H488.3V198.62H485.0zM539.0 193.44H542.3V198.62H539.0zM545.0 193.44H557.3V198.62H545.0zM590.0 193.44H602.3V198.62H590.0zM680.0 188.62H698.3V193.89H680.0zM494.0 168.42H497.3V174.06H494.0zM572.0 163.12H581.3V168.87H572.0zM518.0 152.23H533.3V158.18H518.0zM545.0 152.23H554.3V158.18H545.0zM581.0 152.23H584.3V158.18H581.0zM593.0 140.92H599.3V147.08H593.0zM638.0 135.10H641.3V141.37H638.0zM626.0 129.18H632.3V135.55H626.0zM674.0 110.71H680.3V117.43H674.0zM707.0 110.71H719.3V117.43H707.0zM674.0 104.31H677.3V111.16H674.0z"/>
<path fill="#77bfbd" d="M113.0 392.59H131.3V393.60H113.0zM98.0 391.57H113.3V393.04H98.0zM107.0 389.46H116.3V390.97H107.0zM158.0 388.37H182.3V389.91H158.0zM116.0 387.26H122.3V388.82H116.0zM134.0 387.26H152.3V388.82H134.0zM155.0 387.26H173.3V388.82H155.0zM119.0 386.13H131.3V387.71H119.0zM167.0 386.13H191.3V387.71H167.0zM92.0 384.99H104.3V386.58H92.0zM119.0 384.99H134.3V386.58H119.0zM92.0 383.81H101.3V385.44H92.0zM158.0 383.81H173.3V385.44H158.0zM236.0 382.62H245.3V384.26H236.0zM188.0 381.41H203.3V383.07H188.0zM122.0 380.17H134.3V381.86H122.0zM95.0 378.90H104.3V380.62H95.0zM107.0 378.90H113.3V380.62H107.0zM164.0 376.31H167.3V378.07H164.0zM317.0 376.31H338.3V378.07H317.0zM200.0 374.97H203.3V376.76H200.0zM317.0 374.97H332.3V376.76H317.0zM410.0 374.97H434.3V376.76H410.0zM308.0 373.61H323.3V375.42H308.0zM392.0 372.22H431.3V374.06H392.0zM110.0 370.81H113.3V372.67H110.0zM551.0 370.81H599.3V372.67H551.0zM629.0 370.81H650.3V372.67H629.0zM746.0 370.81H752.3V372.67H746.0zM116.0 369.36H119.3V371.26H116.0zM356.0 369.36H392.3V371.26H356.0zM281.0 367.90H290.3V369.81H281.0zM293.0 367.90H317.3V369.81H293.0zM134.0 366.40H137.3V368.35H134.0zM125.0 364.87H128.3V366.85H125.0zM155.0 361.74H170.3V363.77H155.0zM329.0 361.74H365.3V363.77H329.0zM125.0 360.12H128.3V362.19H125.0zM137.0 360.12H167.3V362.19H137.0zM170.0 360.12H176.3V362.19H170.0zM266.0 360.12H284.3V362.19H266.0zM293.0 360.12H320.3V362.19H293.0zM383.0 360.12H464.3V362.19H383.0zM686.0 358.48H752.3V360.57H686.0zM281.0 351.58H290.3V353.81H281.0zM275.0 349.78H284.3V352.03H275.0zM266.0 347.93H275.3V350.23H266.0zM269.0 346.06H275.3V348.38H269.0zM323.0 346.06H326.3V348.38H323.0zM338.0 344.15H350.3V346.51H338.0zM425.0 344.15H452.3V346.51H425.0zM260.0 342.20H263.3V344.60H260.0zM296.0 342.20H308.3V344.60H296.0zM224.0 340.21H233.3V342.65H224.0zM284.0 340.21H308.3V342.65H284.0zM377.0 340.21H380.3V342.65H377.0zM92.0 338.19H116.3V340.66H92.0zM311.0 334.03H320.3V336.58H311.0zM179.0 331.88H209.3V334.48H179.0zM437.0 331.88H461.3V334.48H437.0zM269.0 329.70H272.3V332.33H269.0zM416.0 329.70H419.3V332.33H416.0zM533.0 329.70H590.3V332.33H533.0zM269.0 327.48H275.3V330.15H269.0zM374.0 327.48H377.3V330.15H374.0zM683.0 327.48H746.3V330.15H683.0zM158.0 325.21H164.3V327.93H158.0zM194.0 325.21H233.3V327.93H194.0zM443.0 325.21H446.3V327.93H443.0zM470.0 325.21H524.3V327.93H470.0zM641.0 325.21H677.3V327.93H641.0zM197.0 322.90H272.3V325.66H197.0zM275.0 322.90H278.3V325.66H275.0zM281.0 322.90H284.3V325.66H281.0zM383.0 322.90H419.3V325.66H383.0zM305.0 320.55H308.3V323.35H305.0zM314.0 320.55H320.3V323.35H314.0zM92.0 315.71H158.3V318.60H92.0zM191.0 315.71H224.3V318.60H191.0zM284.0 315.71H290.3V318.60H284.0zM410.0 315.71H428.3V318.60H410.0zM125.0 313.22H221.3V316.16H125.0zM308.0 313.22H311.3V316.16H308.0zM332.0 313.22H344.3V316.16H332.0zM455.0 313.22H476.3V316.16H455.0zM743.0 313.22H746.3V316.16H743.0zM329.0 310.68H338.3V313.67H329.0zM740.0 310.68H752.3V313.67H740.0zM314.0 308.10H320.3V311.13H314.0zM680.0 308.10H746.3V311.13H680.0zM314.0 305.46H317.3V308.55H314.0zM326.0 305.46H332.3V308.55H326.0zM344.0 305.46H359.3V308.55H344.0zM341.0 302.78H347.3V305.91H341.0zM317.0 300.04H320.3V303.23H317.0zM323.0 300.04H329.3V303.23H323.0zM359.0 300.04H467.3V303.23H359.0zM437.0 294.41H440.3V297.70H437.0zM92.0 291.52H131.3V294.86H92.0zM482.0 291.52H491.3V294.86H482.0zM92.0 288.57H152.3V291.97H92.0zM320.0 288.57H323.3V291.97H320.0zM335.0 288.57H344.3V291.97H335.0zM413.0 288.57H416.3V291.97H413.0zM485.0 288.57H494.3V291.97H485.0zM500.0 285.56H506.3V289.02H500.0zM362.0 282.50H365.3V286.01H362.0zM371.0 282.50H389.3V286.01H371.0zM392.0 282.50H398.3V286.01H392.0zM521.0 282.50H530.3V286.01H521.0zM362.0 279.37H374.3V282.95H362.0zM380.0 279.37H392.3V282.95H380.0zM542.0 279.37H554.3V282.95H542.0zM737.0 276.19H752.3V279.82H737.0zM341.0 269.65H347.3V273.40H341.0zM512.0 266.28H518.3V270.10H512.0zM347.0 262.85H353.3V266.73H347.0zM578.0 262.85H596.3V266.73H578.0zM344.0 259.35H347.3V263.30H344.0zM350.0 259.35H353.3V263.30H350.0zM587.0 259.35H611.3V263.30H587.0zM329.0 255.79H332.3V259.80H329.0zM635.0 255.79H650.3V259.80H635.0zM548.0 252.16H569.3V256.24H548.0zM338.0 248.46H344.3V252.61H338.0zM359.0 248.46H392.3V252.61H359.0zM467.0 248.46H470.3V252.61H467.0zM473.0 248.46H479.3V252.61H473.0zM566.0 224.74H575.3V229.33H566.0zM704.0 224.74H752.3V229.33H704.0zM560.0 220.51H563.3V225.19H560.0zM623.0 216.21H635.3V220.96H623.0zM743.0 216.21H746.3V220.96H743.0zM608.0 211.83H620.3V216.66H608.0zM596.0 207.36H602.3V212.28H596.0zM491.0 198.17H500.3V203.26H491.0zM566.0 198.17H572.3V203.26H566.0zM575.0 198.17H590.3V203.26H575.0zM542.0 193.44H545.3V198.62H542.0zM572.0 193.44H575.3V198.62H572.0zM578.0 193.44H590.3V198.62H578.0zM671.0 188.62H680.3V193.89H671.0zM506.0 168.42H509.3V174.06H506.0zM521.0 163.12H524.3V168.87H521.0zM563.0 163.12H572.3V168.87H563.0zM521.0 157.73H524.3V163.57H521.0zM533.0 157.73H545.3V163.57H533.0zM569.0 157.73H581.3V163.57H569.0zM611.0 140.92H614.3V147.08H611.0zM632.0 129.18H635.3V135.55H632.0zM623.0 123.14H626.3V129.63H623.0zM698.0 110.71H707.3V117.43H698.0z"/>
<path fill="#7fc8b9" d="M98.0 392.59H113.3V393.60H98.0zM92.0 391.57H98.3V393.04H92.0zM137.0 388.37H158.3V389.91H137.0zM92.0 387.26H107.3V388.82H92.0zM110.0 387.26H116.3V388.82H110.0zM122.0 387.26H134.3V388.82H122.0zM95.0 386.13H104.3V387.71H95.0zM110.0 386.13H119.3V387.71H110.0zM152.0 386.13H167.3V387.71H152.0zM104.0 384.99H107.3V386.58H104.0zM110.0 384.99H119.3V386.58H110.0zM101.0 383.81H107.3V385.44H101.0zM110.0 383.81H116.3V385.44H110.0zM209.0 382.62H236.3V384.26H209.0zM170.0 381.41H188.3V383.07H170.0zM110.0 380.17H122.3V381.86H110.0zM302.0 376.31H317.3V378.07H302.0zM188.0 374.97H200.3V376.76H188.0zM308.0 374.97H317.3V376.76H308.0zM158.0 373.61H161.3V375.42H158.0zM188.0 373.61H191.3V375.42H188.0zM296.0 373.61H308.3V375.42H296.0zM359.0 372.22H392.3V374.06H359.0zM479.0 370.81H551.3V372.67H479.0zM290.0 369.36H293.3V371.26H290.0zM326.0 369.36H356.3V371.26H326.0zM119.0 367.90H122.3V369.81H119.0zM266.0 367.90H281.3V369.81H266.0zM290.0 367.90H293.3V369.81H290.0zM176.0 366.40H179.3V368.35H176.0zM152.0 364.87H155.3V366.85H152.0zM113.0 363.32H125.3V365.32H113.0zM140.0 361.74H155.3V363.77H140.0zM311.0 361.74H329.3V363.77H311.0zM104.0 360.12H125.3V362.19H104.0zM128.0 360.12H137.3V362.19H128.0zM176.0 360.12H179.3V362.19H176.0zM251.0 360.12H266.3V362.19H251.0zM290.0 360.12H293.3V362.19H290.0zM335.0 360.12H383.3V362.19H335.0zM497.0 358.48H686.3V360.57H497.0zM269.0 351.58H281.3V353.81H269.0zM248.0 349.78H251.3V352.03H248.0zM266.0 349.78H275.3V352.03H266.0zM257.0 347.93H266.3V350.23H257.0zM254.0 346.06H257.3V348.38H254.0zM326.0 344.15H338.3V346.51H326.0zM389.0 344.15H425.3V346.51H389.0zM293.0 342.20H296.3V344.60H293.0zM203.0 340.21H224.3V342.65H203.0zM269.0 340.21H284.3V342.65H269.0zM299.0 334.03H311.3V336.58H299.0zM173.0 331.88H179.3V334.48H173.0zM404.0 331.88H437.3V334.48H404.0zM404.0 329.70H416.3V332.33H404.0zM371.0 327.48H374.3V330.15H371.0zM92.0 325.21H158.3V327.93H92.0zM164.0 325.21H194.3V327.93H164.0zM233.0 325.21H269.3V327.93H233.0zM377.0 325.21H395.3V327.93H377.0zM419.0 325.21H443.3V327.93H419.0zM446.0 325.21H470.3V327.93H446.0zM134.0 322.90H197.3V325.66H134.0zM359.0 322.90H383.3V325.66H359.0zM290.0 320.55H305.3V323.35H290.0zM311.0 320.55H314.3V323.35H311.0zM494.0 320.55H524.3V323.35H494.0zM332.0 318.15H341.3V321.00H332.0zM92.0 313.22H125.3V316.16H92.0zM323.0 313.22H332.3V316.16H323.0zM401.0 313.22H455.3V316.16H401.0zM320.0 310.68H329.3V313.67H320.0zM527.0 310.68H620.3V313.67H527.0zM320.0 305.46H326.3V308.55H320.0zM314.0 302.78H317.3V305.91H314.0zM335.0 302.78H341.3V305.91H335.0zM320.0 300.04H323.3V303.23H320.0zM368.0 291.52H398.3V294.86H368.0zM323.0 288.57H335.3V291.97H323.0zM404.0 288.57H413.3V291.97H404.0zM479.0 288.57H485.3V291.97H479.0zM617.0 288.57H683.3V291.97H617.0zM419.0 285.56H422.3V289.02H419.0zM494.0 285.56H500.3V289.02H494.0zM398.0 282.50H401.3V286.01H398.0zM407.0 282.50H419.3V286.01H407.0zM512.0 282.50H521.3V286.01H512.0zM374.0 279.37H380.3V282.95H374.0zM530.0 279.37H542.3V282.95H530.0zM722.0 276.19H737.3V279.82H722.0zM335.0 269.65H341.3V273.40H335.0zM347.0 269.65H350.3V273.40H347.0zM737.0 269.65H752.3V273.40H737.0zM551.0 262.85H578.3V266.73H551.0zM347.0 259.35H350.3V263.30H347.0zM560.0 259.35H587.3V263.30H560.0zM332.0 255.79H338.3V259.80H332.0zM629.0 255.79H635.3V259.80H629.0zM545.0 252.16H548.3V256.24H545.0zM350.0 248.46H359.3V252.61H350.0zM470.0 248.46H473.3V252.61H470.0zM491.0 220.51H521.3V225.19H491.0zM584.0 220.51H590.3V225.19H584.0zM614.0 216.21H623.3V220.96H614.0zM551.0 211.83H554.3V216.66H551.0zM602.0 211.83H608.3V216.66H602.0zM593.0 207.36H596.3V212.28H593.0zM482.0 198.17H491.3V203.26H482.0zM554.0 198.17H566.3V203.26H554.0zM572.0 198.17H575.3V203.26H572.0zM575.0 193.44H578.3V198.62H575.0zM704.0 193.44H707.3V198.62H704.0zM491.0 188.62H503.3V193.89H491.0zM656.0 188.62H671.3V193.89H656.0zM485.0 183.71H488.3V189.07H485.0zM491.0 173.61H494.3V179.16H491.0zM746.0 173.61H752.3V179.16H746.0zM497.0 168.42H506.3V174.06H497.0zM533.0 163.12H545.3V168.87H533.0zM554.0 163.12H563.3V168.87H554.0zM524.0 157.73H533.3V163.57H524.0zM545.0 157.73H548.3V163.57H545.0zM557.0 157.73H569.3V163.57H557.0zM584.0 152.23H587.3V158.18H584.0zM605.0 140.92H611.3V147.08H605.0zM614.0 140.92H617.3V147.08H614.0zM644.0 135.10H647.3V141.37H644.0zM686.0 110.71H698.3V117.43H686.0z"/>
<path fill="#89d0b7" d="M92.0 392.59H98.3V393.60H92.0zM125.0 388.37H137.3V389.91H125.0zM107.0 387.26H110.3V388.82H107.0zM92.0 386.13H95.3V387.71H92.0zM104.0 386.13H110.3V387.71H104.0zM107.0 384.99H110.3V386.58H107.0zM107.0 383.81H110.3V385.44H107.0zM164.0 382.62H173.3V384.26H164.0zM182.0 382.62H209.3V384.26H182.0zM158.0 381.41H170.3V383.07H158.0zM95.0 380.17H110.3V381.86H95.0zM200.0 376.31H203.3V378.07H200.0zM287.0 376.31H302.3V378.07H287.0zM161.0 374.97H164.3V376.76H161.0zM179.0 374.97H188.3V376.76H179.0zM203.0 374.97H206.3V376.76H203.0zM296.0 374.97H308.3V376.76H296.0zM161.0 373.61H167.3V375.42H161.0zM179.0 373.61H188.3V375.42H179.0zM206.0 373.61H209.3V375.42H206.0zM287.0 373.61H296.3V375.42H287.0zM194.0 372.22H197.3V374.06H194.0zM320.0 372.22H329.3V374.06H320.0zM335.0 372.22H359.3V374.06H335.0zM377.0 370.81H380.3V372.67H377.0zM440.0 370.81H479.3V372.67H440.0zM221.0 369.36H227.3V371.26H221.0zM281.0 369.36H290.3V371.26H281.0zM311.0 369.36H326.3V371.26H311.0zM227.0 367.90H239.3V369.81H227.0zM254.0 367.90H266.3V369.81H254.0zM167.0 366.40H176.3V368.35H167.0zM182.0 366.40H188.3V368.35H182.0zM416.0 366.40H455.3V368.35H416.0zM128.0 364.87H134.3V366.85H128.0zM137.0 364.87H140.3V366.85H137.0zM143.0 364.87H152.3V366.85H143.0zM320.0 364.87H332.3V366.85H320.0zM92.0 363.32H113.3V365.32H92.0zM125.0 363.32H128.3V365.32H125.0zM317.0 363.32H326.3V365.32H317.0zM116.0 361.74H122.3V363.77H116.0zM128.0 361.74H140.3V363.77H128.0zM170.0 361.74H173.3V363.77H170.0zM302.0 361.74H311.3V363.77H302.0zM92.0 360.12H104.3V362.19H92.0zM227.0 360.12H251.3V362.19H227.0zM476.0 358.48H497.3V360.57H476.0zM245.0 351.58H248.3V353.81H245.0zM263.0 351.58H269.3V353.81H263.0zM260.0 349.78H266.3V352.03H260.0zM626.0 349.78H752.3V352.03H626.0zM320.0 344.15H326.3V346.51H320.0zM368.0 344.15H389.3V346.51H368.0zM287.0 342.20H293.3V344.60H287.0zM179.0 340.21H203.3V342.65H179.0zM266.0 340.21H269.3V342.65H266.0zM269.0 331.88H272.3V334.48H269.0zM380.0 331.88H404.3V334.48H380.0zM386.0 329.70H404.3V332.33H386.0zM362.0 327.48H371.3V330.15H362.0zM269.0 325.21H272.3V327.93H269.0zM362.0 325.21H377.3V327.93H362.0zM395.0 325.21H419.3V327.93H395.0zM92.0 322.90H134.3V325.66H92.0zM356.0 322.90H359.3V325.66H356.0zM308.0 320.55H311.3V323.35H308.0zM305.0 318.15H308.3V321.00H305.0zM326.0 318.15H332.3V321.00H326.0zM296.0 315.71H308.3V318.60H296.0zM332.0 315.71H344.3V318.60H332.0zM314.0 313.22H323.3V316.16H314.0zM311.0 310.68H320.3V313.67H311.0zM317.0 305.46H320.3V308.55H317.0zM329.0 302.78H335.3V305.91H329.0zM401.0 288.57H404.3V291.97H401.0zM416.0 288.57H425.3V291.97H416.0zM473.0 288.57H479.3V291.97H473.0zM488.0 285.56H494.3V289.02H488.0zM401.0 282.50H407.3V286.01H401.0zM506.0 282.50H512.3V286.01H506.0zM521.0 279.37H530.3V282.95H521.0zM350.0 272.95H356.3V276.64H350.0zM749.0 272.95H752.3V276.64H749.0zM722.0 269.65H737.3V273.40H722.0zM353.0 262.85H359.3V266.73H353.0zM542.0 262.85H551.3V266.73H542.0zM356.0 259.35H368.3V263.30H356.0zM545.0 259.35H560.3V263.30H545.0zM338.0 255.79H341.3V259.80H338.0zM617.0 255.79H629.3V259.80H617.0zM455.0 252.16H461.3V256.24H455.0zM344.0 248.46H350.3V252.61H344.0zM578.0 220.51H584.3V225.19H578.0zM557.0 216.21H560.3V220.96H557.0zM605.0 216.21H614.3V220.96H605.0zM596.0 211.83H602.3V216.66H596.0zM551.0 207.36H554.3V212.28H551.0zM590.0 207.36H593.3V212.28H590.0zM707.0 207.36H710.3V212.28H707.0zM479.0 198.17H482.3V203.26H479.0zM542.0 198.17H554.3V203.26H542.0zM485.0 188.62H491.3V193.89H485.0zM641.0 188.62H656.3V193.89H641.0zM698.0 188.62H701.3V193.89H698.0zM731.0 173.61H746.3V179.16H731.0zM527.0 163.12H533.3V168.87H527.0zM545.0 163.12H554.3V168.87H545.0zM581.0 163.12H584.3V168.87H581.0zM548.0 157.73H557.3V163.57H548.0zM581.0 157.73H584.3V163.57H581.0zM593.0 146.63H596.3V152.68H593.0zM602.0 140.92H605.3V147.08H602.0zM680.0 110.71H686.3V117.43H680.0z"/>
<path fill="#95d4b7" d="M95.0 388.37H104.3V389.91H95.0zM113.0 388.37H125.3V389.91H113.0zM149.0 382.62H164.3V384.26H149.0zM173.0 382.62H182.3V384.26H173.0zM143.0 381.41H158.3V383.07H143.0zM188.0 376.31H200.3V378.07H188.0zM203.0 376.31H209.3V378.07H203.0zM164.0 374.97H167.3V376.76H164.0zM173.0 374.97H179.3V376.76H173.0zM284.0 374.97H296.3V376.76H284.0zM173.0 373.61H179.3V375.42H173.0zM191.0 372.22H194.3V374.06H191.0zM308.0 372.22H320.3V374.06H308.0zM329.0 372.22H335.3V374.06H329.0zM113.0 370.81H116.3V372.67H113.0zM353.0 370.81H377.3V372.67H353.0zM404.0 370.81H440.3V372.67H404.0zM119.0 369.36H122.3V371.26H119.0zM212.0 369.36H221.3V371.26H212.0zM227.0 369.36H230.3V371.26H227.0zM269.0 369.36H281.3V371.26H269.0zM299.0 369.36H311.3V371.26H299.0zM122.0 367.90H125.3V369.81H122.0zM245.0 367.90H254.3V369.81H245.0zM161.0 366.40H167.3V368.35H161.0zM179.0 366.40H182.3V368.35H179.0zM374.0 366.40H416.3V368.35H374.0zM134.0 364.87H137.3V366.85H134.0zM140.0 364.87H143.3V366.85H140.0zM164.0 364.87H170.3V366.85H164.0zM311.0 364.87H320.3V366.85H311.0zM302.0 363.32H317.3V365.32H302.0zM461.0 363.32H506.3V365.32H461.0zM95.0 361.74H116.3V363.77H95.0zM215.0 360.12H227.3V362.19H215.0zM257.0 351.58H263.3V353.81H257.0zM254.0 349.78H260.3V352.03H254.0zM488.0 349.78H626.3V352.03H488.0zM257.0 346.06H260.3V348.38H257.0zM314.0 344.15H320.3V346.51H314.0zM350.0 344.15H368.3V346.51H350.0zM263.0 342.20H266.3V344.60H263.0zM278.0 342.20H287.3V344.60H278.0zM158.0 340.21H179.3V342.65H158.0zM365.0 331.88H380.3V334.48H365.0zM272.0 329.70H275.3V332.33H272.0zM374.0 329.70H386.3V332.33H374.0zM275.0 327.48H278.3V330.15H275.0zM353.0 327.48H362.3V330.15H353.0zM473.0 327.48H500.3V330.15H473.0zM350.0 325.21H362.3V327.93H350.0zM284.0 322.90H287.3V325.66H284.0zM320.0 322.90H323.3V325.66H320.0zM290.0 318.15H293.3V321.00H290.0zM296.0 318.15H305.3V321.00H296.0zM320.0 318.15H326.3V321.00H320.0zM290.0 315.71H296.3V318.60H290.0zM308.0 315.71H311.3V318.60H308.0zM323.0 315.71H332.3V318.60H323.0zM311.0 313.22H314.3V316.16H311.0zM326.0 302.78H329.3V305.91H326.0zM425.0 288.57H434.3V291.97H425.0zM464.0 288.57H473.3V291.97H464.0zM422.0 285.56H425.3V289.02H422.0zM482.0 285.56H488.3V289.02H482.0zM497.0 282.50H506.3V286.01H497.0zM392.0 279.37H395.3V282.95H392.0zM515.0 279.37H521.3V282.95H515.0zM695.0 276.19H722.3V279.82H695.0zM734.0 272.95H749.3V276.64H734.0zM353.0 266.28H356.3V270.10H353.0zM362.0 266.28H368.3V270.10H362.0zM533.0 262.85H542.3V266.73H533.0zM353.0 259.35H356.3V263.30H353.0zM539.0 259.35H545.3V263.30H539.0zM341.0 255.79H344.3V259.80H341.0zM605.0 255.79H617.3V259.80H605.0zM338.0 252.16H344.3V256.24H338.0zM446.0 252.16H455.3V256.24H446.0zM563.0 220.51H566.3V225.19H563.0zM575.0 220.51H578.3V225.19H575.0zM596.0 216.21H605.3V220.96H596.0zM593.0 211.83H596.3V216.66H593.0zM587.0 207.36H590.3V212.28H587.0zM704.0 202.81H707.3V207.81H704.0zM503.0 188.62H506.3V193.89H503.0zM536.0 188.62H539.3V193.89H536.0zM563.0 188.62H572.3V193.89H563.0zM629.0 188.62H641.3V193.89H629.0zM701.0 188.62H710.3V193.89H701.0zM488.0 178.71H491.3V184.16H488.0zM683.0 173.61H695.3V179.16H683.0zM722.0 173.61H731.3V179.16H722.0zM512.0 168.42H515.3V174.06H512.0zM689.0 168.42H692.3V174.06H689.0zM743.0 168.42H752.3V174.06H743.0zM524.0 163.12H527.3V168.87H524.0zM617.0 140.92H620.3V147.08H617.0zM638.0 140.92H650.3V147.08H638.0zM626.0 116.98H629.3V123.59H626.0zM746.0 116.98H752.3V123.59H746.0z"/>
<path fill="#a0d9b7" d="M92.0 388.37H95.3V389.91H92.0zM104.0 388.37H113.3V389.91H104.0zM92.0 382.62H98.3V384.26H92.0zM137.0 382.62H149.3V384.26H137.0zM92.0 381.41H95.3V383.07H92.0zM134.0 381.41H143.3V383.07H134.0zM179.0 376.31H188.3V378.07H179.0zM167.0 374.97H173.3V376.76H167.0zM167.0 373.61H173.3V375.42H167.0zM209.0 373.61H221.3V375.42H209.0zM278.0 373.61H287.3V375.42H278.0zM149.0 372.22H155.3V374.06H149.0zM185.0 372.22H191.3V374.06H185.0zM218.0 372.22H224.3V374.06H218.0zM299.0 372.22H308.3V374.06H299.0zM338.0 370.81H353.3V372.67H338.0zM380.0 370.81H404.3V372.67H380.0zM203.0 369.36H212.3V371.26H203.0zM263.0 369.36H269.3V371.26H263.0zM293.0 369.36H299.3V371.26H293.0zM125.0 367.90H131.3V369.81H125.0zM218.0 367.90H227.3V369.81H218.0zM239.0 367.90H245.3V369.81H239.0zM137.0 366.40H140.3V368.35H137.0zM155.0 366.40H161.3V368.35H155.0zM335.0 366.40H374.3V368.35H335.0zM158.0 364.87H164.3V366.85H158.0zM299.0 364.87H311.3V366.85H299.0zM167.0 363.32H170.3V365.32H167.0zM290.0 363.32H302.3V365.32H290.0zM416.0 363.32H461.3V365.32H416.0zM92.0 361.74H95.3V363.77H92.0zM299.0 361.74H302.3V363.77H299.0zM206.0 360.12H215.3V362.19H206.0zM248.0 351.58H257.3V353.81H248.0zM251.0 349.78H254.3V352.03H251.0zM485.0 349.78H488.3V352.03H485.0zM251.0 347.93H254.3V350.23H251.0zM257.0 344.15H260.3V346.51H257.0zM311.0 344.15H314.3V346.51H311.0zM272.0 342.20H278.3V344.60H272.0zM140.0 340.21H158.3V342.65H140.0zM161.0 331.88H173.3V334.48H161.0zM350.0 331.88H365.3V334.48H350.0zM365.0 329.70H374.3V332.33H365.0zM350.0 327.48H353.3V330.15H350.0zM440.0 327.48H473.3V330.15H440.0zM275.0 325.21H278.3V327.93H275.0zM341.0 325.21H350.3V327.93H341.0zM317.0 322.90H320.3V325.66H317.0zM293.0 318.15H296.3V321.00H293.0zM308.0 318.15H320.3V321.00H308.0zM311.0 315.71H323.3V318.60H311.0zM320.0 302.78H326.3V305.91H320.0zM398.0 291.52H401.3V294.86H398.0zM431.0 291.52H434.3V294.86H431.0zM476.0 291.52H482.3V294.86H476.0zM434.0 288.57H437.3V291.97H434.0zM458.0 288.57H464.3V291.97H458.0zM479.0 285.56H482.3V289.02H479.0zM491.0 282.50H497.3V286.01H491.0zM410.0 279.37H416.3V282.95H410.0zM497.0 279.37H503.3V282.95H497.0zM509.0 279.37H515.3V282.95H509.0zM356.0 276.19H359.3V279.82H356.0zM638.0 276.19H695.3V279.82H638.0zM722.0 272.95H734.3V276.64H722.0zM350.0 269.65H353.3V273.40H350.0zM719.0 269.65H722.3V273.40H719.0zM356.0 266.28H362.3V270.10H356.0zM380.0 266.28H386.3V270.10H380.0zM362.0 262.85H368.3V266.73H362.0zM527.0 262.85H533.3V266.73H527.0zM368.0 259.35H371.3V263.30H368.0zM530.0 259.35H539.3V263.30H530.0zM578.0 255.79H605.3V259.80H578.0zM437.0 252.16H446.3V256.24H437.0zM461.0 252.16H464.3V256.24H461.0zM566.0 220.51H575.3V225.19H566.0zM506.0 188.62H512.3V193.89H506.0zM527.0 188.62H536.3V193.89H527.0zM542.0 188.62H545.3V193.89H542.0zM554.0 188.62H563.3V193.89H554.0zM572.0 188.62H575.3V193.89H572.0zM620.0 188.62H629.3V193.89H620.0zM725.0 188.62H728.3V193.89H725.0zM491.0 183.71H500.3V189.07H491.0zM491.0 178.71H494.3V184.16H491.0zM497.0 178.71H500.3V184.16H497.0zM494.0 173.61H497.3V179.16H494.0zM671.0 173.61H683.3V179.16H671.0zM713.0 173.61H722.3V179.16H713.0zM509.0 168.42H512.3V174.06H509.0zM575.0 168.42H581.3V174.06H575.0zM674.0 168.42H689.3V174.06H674.0zM734.0 168.42H743.3V174.06H734.0zM599.0 146.63H602.3V152.68H599.0zM632.0 140.92H638.3V147.08H632.0zM647.0 135.10H650.3V141.37H647.0zM626.0 123.14H629.3V129.63H626.0zM716.0 116.98H719.3V123.59H716.0zM740.0 116.98H746.3V123.59H740.0z"/>
<path fill="#acdeb6" d="M128.0 382.62H137.3V384.26H128.0zM95.0 381.41H98.3V383.07H95.0zM125.0 381.41H134.3V383.07H125.0zM170.0 376.31H179.3V378.07H170.0zM209.0 376.31H212.3V378.07H209.0zM278.0 376.31H287.3V378.07H278.0zM278.0 374.97H284.3V376.76H278.0zM272.0 373.61H278.3V375.42H272.0zM179.0 372.22H185.3V374.06H179.0zM197.0 372.22H206.3V374.06H197.0zM209.0 372.22H218.3V374.06H209.0zM290.0 372.22H299.3V374.06H290.0zM137.0 370.81H143.3V372.67H137.0zM335.0 370.81H338.3V372.67H335.0zM197.0 369.36H203.3V371.26H197.0zM230.0 369.36H233.3V371.26H230.0zM260.0 369.36H263.3V371.26H260.0zM131.0 367.90H134.3V369.81H131.0zM182.0 367.90H191.3V369.81H182.0zM209.0 367.90H218.3V369.81H209.0zM152.0 366.40H155.3V368.35H152.0zM293.0 366.40H335.3V368.35H293.0zM155.0 364.87H158.3V366.85H155.0zM182.0 364.87H185.3V366.85H182.0zM290.0 364.87H299.3V366.85H290.0zM398.0 364.87H413.3V366.85H398.0zM155.0 363.32H167.3V365.32H155.0zM278.0 363.32H290.3V365.32H278.0zM368.0 363.32H416.3V365.32H368.0zM173.0 361.74H176.3V363.77H173.0zM284.0 361.74H299.3V363.77H284.0zM179.0 360.12H182.3V362.19H179.0zM482.0 351.58H488.3V353.81H482.0zM254.0 347.93H257.3V350.23H254.0zM260.0 346.06H269.3V348.38H260.0zM266.0 342.20H272.3V344.60H266.0zM128.0 340.21H140.3V342.65H128.0zM143.0 331.88H161.3V334.48H143.0zM272.0 331.88H275.3V334.48H272.0zM290.0 331.88H293.3V334.48H290.0zM341.0 331.88H350.3V334.48H341.0zM356.0 329.70H365.3V332.33H356.0zM344.0 327.48H350.3V330.15H344.0zM416.0 327.48H440.3V330.15H416.0zM338.0 325.21H341.3V327.93H338.0zM287.0 322.90H293.3V325.66H287.0zM311.0 322.90H317.3V325.66H311.0zM344.0 322.90H356.3V325.66H344.0zM317.0 302.78H320.3V305.91H317.0zM410.0 291.52H416.3V294.86H410.0zM422.0 291.52H431.3V294.86H422.0zM467.0 291.52H476.3V294.86H467.0zM452.0 288.57H458.3V291.97H452.0zM425.0 285.56H431.3V289.02H425.0zM476.0 285.56H479.3V289.02H476.0zM419.0 282.50H422.3V286.01H419.0zM488.0 282.50H491.3V286.01H488.0zM395.0 279.37H401.3V282.95H395.0zM404.0 279.37H410.3V282.95H404.0zM416.0 279.37H419.3V282.95H416.0zM494.0 279.37H497.3V282.95H494.0zM503.0 279.37H509.3V282.95H503.0zM359.0 276.19H362.3V279.82H359.0zM596.0 276.19H638.3V279.82H596.0zM356.0 272.95H359.3V276.64H356.0zM668.0 269.65H719.3V273.40H668.0zM371.0 266.28H380.3V270.10H371.0zM506.0 266.28H512.3V270.10H506.0zM359.0 262.85H362.3V266.73H359.0zM368.0 262.85H374.3V266.73H368.0zM521.0 262.85H527.3V266.73H521.0zM371.0 259.35H374.3V263.30H371.0zM524.0 259.35H530.3V263.30H524.0zM362.0 255.79H368.3V259.80H362.0zM560.0 255.79H578.3V259.80H560.0zM365.0 252.16H368.3V256.24H365.0zM431.0 252.16H437.3V256.24H431.0zM539.0 252.16H545.3V256.24H539.0zM593.0 216.21H596.3V220.96H593.0zM554.0 211.83H557.3V216.66H554.0zM590.0 211.83H593.3V216.66H590.0zM584.0 207.36H587.3V212.28H584.0zM710.0 207.36H719.3V212.28H710.0zM521.0 188.62H527.3V193.89H521.0zM539.0 188.62H542.3V193.89H539.0zM545.0 188.62H554.3V193.89H545.0zM614.0 188.62H620.3V193.89H614.0zM710.0 188.62H713.3V193.89H710.0zM719.0 188.62H725.3V193.89H719.0zM488.0 183.71H491.3V189.07H488.0zM494.0 178.71H497.3V184.16H494.0zM659.0 173.61H671.3V179.16H659.0zM695.0 173.61H698.3V179.16H695.0zM707.0 173.61H713.3V179.16H707.0zM518.0 168.42H521.3V174.06H518.0zM569.0 168.42H575.3V174.06H569.0zM665.0 168.42H674.3V174.06H665.0zM725.0 168.42H734.3V174.06H725.0zM746.0 163.12H752.3V168.87H746.0zM587.0 152.23H590.3V158.18H587.0zM596.0 146.63H599.3V152.68H596.0zM629.0 140.92H632.3V147.08H629.0zM710.0 116.98H716.3V123.59H710.0zM731.0 116.98H740.3V123.59H731.0z"/>
<path fill="#b7e2b6" d="M98.0 382.62H101.3V384.26H98.0zM122.0 382.62H128.3V384.26H122.0zM119.0 381.41H125.3V383.07H119.0zM167.0 376.31H170.3V378.07H167.0zM269.0 376.31H278.3V378.07H269.0zM206.0 374.97H209.3V376.76H206.0zM272.0 374.97H278.3V376.76H272.0zM155.0 372.22H158.3V374.06H155.0zM176.0 372.22H179.3V374.06H176.0zM206.0 372.22H209.3V374.06H206.0zM281.0 372.22H290.3V374.06H281.0zM116.0 370.81H122.3V372.67H116.0zM128.0 370.81H137.3V372.67H128.0zM128.0 369.36H131.3V371.26H128.0zM254.0 369.36H260.3V371.26H254.0zM176.0 367.90H182.3V369.81H176.0zM191.0 367.90H209.3V369.81H191.0zM146.0 366.40H152.3V368.35H146.0zM254.0 366.40H293.3V368.35H254.0zM170.0 364.87H182.3V366.85H170.0zM281.0 364.87H290.3V366.85H281.0zM362.0 364.87H398.3V366.85H362.0zM128.0 363.32H137.3V365.32H128.0zM143.0 363.32H155.3V365.32H143.0zM326.0 363.32H368.3V365.32H326.0zM233.0 361.74H236.3V363.77H233.0zM269.0 361.74H284.3V363.77H269.0zM200.0 360.12H206.3V362.19H200.0zM479.0 353.36H485.3V355.55H479.0zM116.0 340.21H128.3V342.65H116.0zM125.0 331.88H143.3V334.48H125.0zM275.0 331.88H278.3V334.48H275.0zM284.0 331.88H290.3V334.48H284.0zM293.0 331.88H296.3V334.48H293.0zM332.0 331.88H341.3V334.48H332.0zM350.0 329.70H356.3V332.33H350.0zM341.0 327.48H344.3V330.15H341.0zM272.0 325.21H275.3V327.93H272.0zM332.0 325.21H338.3V327.93H332.0zM293.0 322.90H296.3V325.66H293.0zM302.0 322.90H308.3V325.66H302.0zM335.0 322.90H344.3V325.66H335.0zM530.0 294.41H536.3V297.70H530.0zM404.0 291.52H410.3V294.86H404.0zM416.0 291.52H422.3V294.86H416.0zM434.0 291.52H437.3V294.86H434.0zM455.0 291.52H467.3V294.86H455.0zM446.0 288.57H452.3V291.97H446.0zM470.0 285.56H476.3V289.02H470.0zM482.0 282.50H488.3V286.01H482.0zM401.0 279.37H404.3V282.95H401.0zM488.0 279.37H494.3V282.95H488.0zM509.0 276.19H596.3V279.82H509.0zM359.0 272.95H362.3V276.64H359.0zM353.0 269.65H356.3V273.40H353.0zM632.0 269.65H668.3V273.40H632.0zM368.0 266.28H371.3V270.10H368.0zM500.0 266.28H506.3V270.10H500.0zM374.0 262.85H377.3V266.73H374.0zM515.0 262.85H521.3V266.73H515.0zM521.0 259.35H524.3V263.30H521.0zM344.0 255.79H347.3V259.80H344.0zM353.0 255.79H362.3V259.80H353.0zM545.0 255.79H560.3V259.80H545.0zM359.0 252.16H365.3V256.24H359.0zM368.0 252.16H371.3V256.24H368.0zM425.0 252.16H431.3V256.24H425.0zM533.0 252.16H539.3V256.24H533.0zM590.0 216.21H593.3V220.96H590.0zM581.0 207.36H584.3V212.28H581.0zM518.0 188.62H521.3V193.89H518.0zM608.0 188.62H614.3V193.89H608.0zM716.0 188.62H719.3V193.89H716.0zM500.0 183.71H503.3V189.07H500.0zM650.0 173.61H659.3V179.16H650.0zM701.0 173.61H707.3V179.16H701.0zM515.0 168.42H518.3V174.06H515.0zM521.0 168.42H524.3V174.06H521.0zM563.0 168.42H569.3V174.06H563.0zM656.0 168.42H665.3V174.06H656.0zM719.0 168.42H725.3V174.06H719.0zM740.0 163.12H746.3V168.87H740.0zM746.0 146.63H752.3V152.68H746.0zM623.0 140.92H629.3V147.08H623.0zM749.0 123.14H752.3V129.63H749.0zM704.0 116.98H710.3V123.59H704.0zM722.0 116.98H731.3V123.59H722.0z"/>
<path fill="#c2e6b5" d="M113.0 382.62H122.3V384.26H113.0zM113.0 381.41H119.3V383.07H113.0zM260.0 376.31H269.3V378.07H260.0zM266.0 374.97H272.3V376.76H266.0zM164.0 372.22H167.3V374.06H164.0zM170.0 372.22H176.3V374.06H170.0zM275.0 372.22H281.3V374.06H275.0zM122.0 370.81H128.3V372.67H122.0zM323.0 370.81H335.3V372.67H323.0zM122.0 369.36H128.3V371.26H122.0zM194.0 369.36H197.3V371.26H194.0zM233.0 369.36H239.3V371.26H233.0zM248.0 369.36H254.3V371.26H248.0zM134.0 367.90H140.3V369.81H134.0zM170.0 367.90H176.3V369.81H170.0zM143.0 366.40H146.3V368.35H143.0zM248.0 366.40H254.3V368.35H248.0zM185.0 364.87H188.3V366.85H185.0zM272.0 364.87H281.3V366.85H272.0zM338.0 364.87H362.3V366.85H338.0zM137.0 363.32H143.3V365.32H137.0zM224.0 361.74H233.3V363.77H224.0zM263.0 361.74H269.3V363.77H263.0zM191.0 360.12H200.3V362.19H191.0zM455.0 358.48H476.3V360.57H455.0zM305.0 344.15H311.3V346.51H305.0zM107.0 340.21H116.3V342.65H107.0zM113.0 331.88H125.3V334.48H113.0zM278.0 331.88H284.3V334.48H278.0zM326.0 331.88H332.3V334.48H326.0zM275.0 329.70H278.3V332.33H275.0zM344.0 329.70H350.3V332.33H344.0zM278.0 327.48H281.3V330.15H278.0zM338.0 327.48H341.3V330.15H338.0zM329.0 325.21H332.3V327.93H329.0zM296.0 322.90H302.3V325.66H296.0zM308.0 322.90H311.3V325.66H308.0zM326.0 322.90H335.3V325.66H326.0zM491.0 294.41H530.3V297.70H491.0zM401.0 291.52H404.3V294.86H401.0zM446.0 291.52H455.3V294.86H446.0zM437.0 288.57H440.3V291.97H437.0zM443.0 288.57H446.3V291.97H443.0zM464.0 285.56H470.3V289.02H464.0zM479.0 282.50H482.3V286.01H479.0zM419.0 279.37H422.3V282.95H419.0zM485.0 279.37H488.3V282.95H485.0zM506.0 276.19H509.3V279.82H506.0zM695.0 272.95H722.3V276.64H695.0zM560.0 269.65H632.3V273.40H560.0zM386.0 266.28H389.3V270.10H386.0zM494.0 266.28H500.3V270.10H494.0zM377.0 262.85H383.3V266.73H377.0zM512.0 262.85H515.3V266.73H512.0zM515.0 259.35H521.3V263.30H515.0zM347.0 255.79H353.3V259.80H347.0zM368.0 255.79H371.3V259.80H368.0zM539.0 255.79H545.3V259.80H539.0zM356.0 252.16H359.3V256.24H356.0zM419.0 252.16H425.3V256.24H419.0zM527.0 252.16H533.3V256.24H527.0zM557.0 211.83H560.3V216.66H557.0zM587.0 211.83H590.3V216.66H587.0zM554.0 207.36H557.3V212.28H554.0zM563.0 207.36H572.3V212.28H563.0zM575.0 207.36H581.3V212.28H575.0zM719.0 207.36H722.3V212.28H719.0zM707.0 198.17H710.3V203.26H707.0zM512.0 188.62H518.3V193.89H512.0zM602.0 188.62H608.3V193.89H602.0zM713.0 188.62H716.3V193.89H713.0zM725.0 183.71H728.3V189.07H725.0zM500.0 178.71H503.3V184.16H500.0zM725.0 178.71H734.3V184.16H725.0zM641.0 173.61H650.3V179.16H641.0zM698.0 173.61H701.3V179.16H698.0zM530.0 168.42H545.3V174.06H530.0zM557.0 168.42H563.3V174.06H557.0zM581.0 168.42H584.3V174.06H581.0zM644.0 168.42H656.3V174.06H644.0zM692.0 168.42H695.3V174.06H692.0zM713.0 168.42H719.3V174.06H713.0zM683.0 163.12H692.3V168.87H683.0zM734.0 163.12H740.3V168.87H734.0zM737.0 146.63H746.3V152.68H737.0zM620.0 140.92H623.3V147.08H620.0zM650.0 135.10H653.3V141.37H650.0zM635.0 129.18H638.3V135.55H635.0zM743.0 123.14H749.3V129.63H743.0zM701.0 116.98H704.3V123.59H701.0zM719.0 116.98H722.3V123.59H719.0z"/>
<path fill="#cceab3" d="M110.0 382.62H113.3V384.26H110.0zM98.0 381.41H101.3V383.07H98.0zM110.0 381.41H113.3V383.07H110.0zM212.0 376.31H215.3V378.07H212.0zM254.0 376.31H260.3V378.07H254.0zM260.0 374.97H266.3V376.76H260.0zM221.0 373.61H224.3V375.42H221.0zM161.0 372.22H164.3V374.06H161.0zM272.0 372.22H275.3V374.06H272.0zM218.0 370.81H224.3V372.67H218.0zM314.0 370.81H323.3V372.67H314.0zM140.0 369.36H143.3V371.26H140.0zM188.0 369.36H194.3V371.26H188.0zM242.0 369.36H248.3V371.26H242.0zM146.0 367.90H155.3V369.81H146.0zM158.0 367.90H170.3V369.81H158.0zM140.0 366.40H143.3V368.35H140.0zM233.0 366.40H248.3V368.35H233.0zM269.0 364.87H272.3V366.85H269.0zM332.0 364.87H338.3V366.85H332.0zM269.0 363.32H278.3V365.32H269.0zM215.0 361.74H224.3V363.77H215.0zM239.0 361.74H242.3V363.77H239.0zM251.0 361.74H263.3V363.77H251.0zM185.0 360.12H191.3V362.19H185.0zM320.0 358.48H455.3V360.57H320.0zM476.0 356.80H482.3V358.93H476.0zM299.0 344.15H305.3V346.51H299.0zM98.0 340.21H107.3V342.65H98.0zM98.0 331.88H113.3V334.48H98.0zM323.0 331.88H326.3V334.48H323.0zM338.0 329.70H344.3V332.33H338.0zM332.0 327.48H338.3V330.15H332.0zM278.0 325.21H281.3V327.93H278.0zM323.0 322.90H326.3V325.66H323.0zM476.0 294.41H491.3V297.70H476.0zM440.0 291.52H446.3V294.86H440.0zM440.0 288.57H443.3V291.97H440.0zM461.0 285.56H464.3V289.02H461.0zM473.0 282.50H479.3V286.01H473.0zM482.0 279.37H485.3V282.95H482.0zM500.0 276.19H506.3V279.82H500.0zM362.0 272.95H365.3V276.64H362.0zM650.0 272.95H695.3V276.64H650.0zM356.0 269.65H359.3V273.40H356.0zM506.0 269.65H560.3V273.40H506.0zM398.0 266.28H404.3V270.10H398.0zM491.0 266.28H494.3V270.10H491.0zM383.0 262.85H386.3V266.73H383.0zM506.0 262.85H512.3V266.73H506.0zM374.0 259.35H377.3V263.30H374.0zM512.0 259.35H515.3V263.30H512.0zM455.0 255.79H461.3V259.80H455.0zM533.0 255.79H539.3V259.80H533.0zM344.0 252.16H347.3V256.24H344.0zM350.0 252.16H356.3V256.24H350.0zM413.0 252.16H419.3V256.24H413.0zM521.0 252.16H527.3V256.24H521.0zM560.0 216.21H563.3V220.96H560.0zM587.0 216.21H590.3V220.96H587.0zM560.0 211.83H569.3V216.66H560.0zM560.0 207.36H563.3V212.28H560.0zM572.0 207.36H575.3V212.28H572.0zM707.0 193.44H710.3V198.62H707.0zM596.0 188.62H602.3V193.89H596.0zM749.0 188.62H752.3V193.89H749.0zM686.0 183.71H698.3V189.07H686.0zM719.0 183.71H725.3V189.07H719.0zM728.0 183.71H734.3V189.07H728.0zM719.0 178.71H725.3V184.16H719.0zM746.0 178.71H752.3V184.16H746.0zM497.0 173.61H500.3V179.16H497.0zM632.0 173.61H641.3V179.16H632.0zM524.0 168.42H530.3V174.06H524.0zM545.0 168.42H557.3V174.06H545.0zM587.0 168.42H590.3V174.06H587.0zM638.0 168.42H644.3V174.06H638.0zM710.0 168.42H713.3V174.06H710.0zM674.0 163.12H683.3V168.87H674.0zM728.0 163.12H734.3V168.87H728.0zM749.0 157.73H752.3V163.57H749.0zM749.0 152.23H752.3V158.18H749.0zM734.0 146.63H737.3V152.68H734.0zM749.0 129.18H752.3V135.55H749.0zM629.0 123.14H632.3V129.63H629.0zM737.0 123.14H743.3V129.63H737.0zM698.0 116.98H701.3V123.59H698.0z"/>
<path fill="#d5eeb1" d="M104.0 382.62H110.3V384.26H104.0zM101.0 381.41H110.3V383.07H101.0zM245.0 376.31H254.3V378.07H245.0zM254.0 374.97H260.3V376.76H254.0zM230.0 373.61H239.3V375.42H230.0zM158.0 372.22H161.3V374.06H158.0zM167.0 372.22H170.3V374.06H167.0zM224.0 372.22H227.3V374.06H224.0zM143.0 370.81H146.3V372.67H143.0zM194.0 370.81H197.3V372.67H194.0zM209.0 370.81H218.3V372.67H209.0zM224.0 370.81H227.3V372.67H224.0zM308.0 370.81H314.3V372.67H308.0zM131.0 369.36H134.3V371.26H131.0zM137.0 369.36H140.3V371.26H137.0zM182.0 369.36H188.3V371.26H182.0zM140.0 367.90H146.3V369.81H140.0zM155.0 367.90H158.3V369.81H155.0zM227.0 366.40H233.3V368.35H227.0zM263.0 364.87H269.3V366.85H263.0zM263.0 363.32H269.3V365.32H263.0zM176.0 361.74H179.3V363.77H176.0zM209.0 361.74H215.3V363.77H209.0zM236.0 361.74H239.3V363.77H236.0zM245.0 361.74H251.3V363.77H245.0zM182.0 360.12H185.3V362.19H182.0zM278.0 358.48H320.3V360.57H278.0zM284.0 344.15H287.3V346.51H284.0zM293.0 344.15H299.3V346.51H293.0zM92.0 340.21H98.3V342.65H92.0zM92.0 331.88H98.3V334.48H92.0zM296.0 331.88H299.3V334.48H296.0zM320.0 331.88H323.3V334.48H320.0zM278.0 329.70H281.3V332.33H278.0zM329.0 327.48H332.3V330.15H329.0zM281.0 325.21H284.3V327.93H281.0zM437.0 291.52H440.3V294.86H437.0zM431.0 285.56H434.3V289.02H431.0zM458.0 285.56H461.3V289.02H458.0zM470.0 282.50H473.3V286.01H470.0zM422.0 279.37H425.3V282.95H422.0zM479.0 279.37H482.3V282.95H479.0zM389.0 276.19H392.3V279.82H389.0zM410.0 276.19H419.3V279.82H410.0zM497.0 276.19H500.3V279.82H497.0zM632.0 272.95H650.3V276.64H632.0zM359.0 269.65H365.3V273.40H359.0zM380.0 269.65H386.3V273.40H380.0zM437.0 269.65H443.3V273.40H437.0zM497.0 269.65H506.3V273.40H497.0zM395.0 266.28H398.3V270.10H395.0zM485.0 266.28H491.3V270.10H485.0zM398.0 262.85H404.3V266.73H398.0zM500.0 262.85H506.3V266.73H500.0zM506.0 259.35H512.3V263.30H506.0zM452.0 255.79H455.3V259.80H452.0zM530.0 255.79H533.3V259.80H530.0zM347.0 252.16H350.3V256.24H347.0zM407.0 252.16H413.3V256.24H407.0zM464.0 252.16H467.3V256.24H464.0zM518.0 252.16H521.3V256.24H518.0zM563.0 216.21H566.3V220.96H563.0zM584.0 211.83H587.3V216.66H584.0zM557.0 207.36H560.3V212.28H557.0zM734.0 207.36H737.3V212.28H734.0zM593.0 188.62H596.3V193.89H593.0zM728.0 188.62H734.3V193.89H728.0zM746.0 188.62H749.3V193.89H746.0zM503.0 183.71H506.3V189.07H503.0zM674.0 183.71H686.3V189.07H674.0zM707.0 183.71H719.3V189.07H707.0zM674.0 178.71H680.3V184.16H674.0zM686.0 178.71H698.3V184.16H686.0zM713.0 178.71H719.3V184.16H713.0zM740.0 178.71H746.3V184.16H740.0zM623.0 173.61H632.3V179.16H623.0zM584.0 168.42H587.3V174.06H584.0zM593.0 168.42H599.3V174.06H593.0zM602.0 168.42H608.3V174.06H602.0zM632.0 168.42H638.3V174.06H632.0zM704.0 168.42H710.3V174.06H704.0zM671.0 163.12H674.3V168.87H671.0zM722.0 163.12H728.3V168.87H722.0zM743.0 157.73H749.3V163.57H743.0zM590.0 152.23H593.3V158.18H590.0zM743.0 152.23H749.3V158.18H743.0zM602.0 146.63H605.3V152.68H602.0zM728.0 146.63H734.3V152.68H728.0zM749.0 140.92H752.3V147.08H749.0zM653.0 135.10H656.3V141.37H653.0zM746.0 129.18H749.3V135.55H746.0zM734.0 123.14H737.3V129.63H734.0zM629.0 116.98H632.3V123.59H629.0zM692.0 116.98H698.3V123.59H692.0z"/>
<path fill="#dff2af" d="M101.0 382.62H104.3V384.26H101.0zM242.0 376.31H245.3V378.07H242.0zM251.0 374.97H254.3V376.76H251.0zM227.0 373.61H230.3V375.42H227.0zM227.0 372.22H230.3V374.06H227.0zM188.0 370.81H194.3V372.67H188.0zM197.0 370.81H209.3V372.67H197.0zM299.0 370.81H308.3V372.67H299.0zM134.0 369.36H137.3V371.26H134.0zM179.0 369.36H182.3V371.26H179.0zM239.0 369.36H242.3V371.26H239.0zM221.0 366.40H227.3V368.35H221.0zM257.0 364.87H263.3V366.85H257.0zM257.0 363.32H263.3V365.32H257.0zM206.0 361.74H209.3V363.77H206.0zM242.0 361.74H245.3V363.77H242.0zM260.0 344.15H263.3V346.51H260.0zM281.0 344.15H284.3V346.51H281.0zM290.0 344.15H293.3V346.51H290.0zM299.0 331.88H302.3V334.48H299.0zM314.0 331.88H320.3V334.48H314.0zM287.0 329.70H293.3V332.33H287.0zM335.0 329.70H338.3V332.33H335.0zM326.0 327.48H329.3V330.15H326.0zM434.0 285.56H440.3V289.02H434.0zM452.0 285.56H458.3V289.02H452.0zM422.0 282.50H425.3V286.01H422.0zM464.0 282.50H470.3V286.01H464.0zM425.0 279.37H428.3V282.95H425.0zM476.0 279.37H479.3V282.95H476.0zM362.0 276.19H365.3V279.82H362.0zM380.0 276.19H389.3V279.82H380.0zM407.0 276.19H410.3V279.82H407.0zM422.0 276.19H428.3V279.82H422.0zM494.0 276.19H497.3V279.82H494.0zM563.0 272.95H632.3V276.64H563.0zM365.0 269.65H368.3V273.40H365.0zM374.0 269.65H380.3V273.40H374.0zM386.0 269.65H389.3V273.40H386.0zM431.0 269.65H437.3V273.40H431.0zM491.0 269.65H497.3V273.40H491.0zM389.0 266.28H395.3V270.10H389.0zM440.0 266.28H446.3V270.10H440.0zM482.0 266.28H485.3V270.10H482.0zM392.0 262.85H398.3V266.73H392.0zM494.0 262.85H500.3V266.73H494.0zM452.0 259.35H458.3V263.30H452.0zM503.0 259.35H506.3V263.30H503.0zM443.0 255.79H452.3V259.80H443.0zM521.0 255.79H530.3V259.80H521.0zM371.0 252.16H380.3V256.24H371.0zM404.0 252.16H407.3V256.24H404.0zM512.0 252.16H518.3V256.24H512.0zM584.0 216.21H587.3V220.96H584.0zM722.0 207.36H725.3V212.28H722.0zM731.0 207.36H734.3V212.28H731.0zM737.0 207.36H743.3V212.28H737.0zM749.0 207.36H752.3V212.28H749.0zM707.0 202.81H710.3V207.81H707.0zM710.0 198.17H719.3V203.26H710.0zM587.0 188.62H593.3V193.89H587.0zM743.0 188.62H746.3V193.89H743.0zM665.0 183.71H674.3V189.07H665.0zM701.0 183.71H707.3V189.07H701.0zM503.0 178.71H506.3V184.16H503.0zM668.0 178.71H674.3V184.16H668.0zM680.0 178.71H686.3V184.16H680.0zM707.0 178.71H713.3V184.16H707.0zM734.0 178.71H740.3V184.16H734.0zM500.0 173.61H503.3V179.16H500.0zM620.0 173.61H623.3V179.16H620.0zM590.0 168.42H593.3V174.06H590.0zM599.0 168.42H602.3V174.06H599.0zM626.0 168.42H632.3V174.06H626.0zM695.0 168.42H698.3V174.06H695.0zM701.0 168.42H704.3V174.06H701.0zM665.0 163.12H671.3V168.87H665.0zM719.0 163.12H722.3V168.87H719.0zM584.0 157.73H587.3V163.57H584.0zM737.0 157.73H743.3V163.57H737.0zM737.0 152.23H743.3V158.18H737.0zM608.0 146.63H614.3V152.68H608.0zM725.0 146.63H728.3V152.68H725.0zM650.0 140.92H653.3V147.08H650.0zM746.0 140.92H749.3V147.08H746.0zM749.0 135.10H752.3V141.37H749.0zM641.0 129.18H644.3V135.55H641.0zM740.0 129.18H746.3V135.55H740.0zM728.0 123.14H734.3V129.63H728.0zM668.0 116.98H671.3V123.59H668.0zM689.0 116.98H692.3V123.59H689.0z"/>
<path fill="#e9f6ad" d="M236.0 376.31H242.3V378.07H236.0zM209.0 374.97H212.3V376.76H209.0zM245.0 374.97H251.3V376.76H245.0zM224.0 373.61H227.3V375.42H224.0zM182.0 370.81H188.3V372.67H182.0zM293.0 370.81H299.3V372.67H293.0zM173.0 369.36H179.3V371.26H173.0zM215.0 366.40H221.3V368.35H215.0zM251.0 364.87H257.3V366.85H251.0zM170.0 363.32H173.3V365.32H170.0zM251.0 363.32H257.3V365.32H251.0zM179.0 361.74H182.3V363.77H179.0zM200.0 361.74H206.3V363.77H200.0zM278.0 344.15H281.3V346.51H278.0zM287.0 344.15H290.3V346.51H287.0zM485.0 336.13H752.3V338.64H485.0zM311.0 331.88H314.3V334.48H311.0zM281.0 329.70H287.3V332.33H281.0zM332.0 329.70H335.3V332.33H332.0zM281.0 327.48H284.3V330.15H281.0zM323.0 327.48H326.3V330.15H323.0zM326.0 325.21H329.3V327.93H326.0zM449.0 285.56H452.3V289.02H449.0zM461.0 282.50H464.3V286.01H461.0zM434.0 279.37H440.3V282.95H434.0zM473.0 279.37H476.3V282.95H473.0zM374.0 276.19H380.3V279.82H374.0zM401.0 276.19H407.3V279.82H401.0zM419.0 276.19H422.3V279.82H419.0zM491.0 276.19H494.3V279.82H491.0zM365.0 272.95H368.3V276.64H365.0zM383.0 272.95H389.3V276.64H383.0zM497.0 272.95H563.3V276.64H497.0zM368.0 269.65H374.3V273.40H368.0zM422.0 269.65H431.3V273.40H422.0zM443.0 269.65H446.3V273.40H443.0zM485.0 269.65H491.3V273.40H485.0zM434.0 266.28H440.3V270.10H434.0zM479.0 266.28H482.3V270.10H479.0zM386.0 262.85H392.3V266.73H386.0zM404.0 262.85H407.3V266.73H404.0zM488.0 262.85H494.3V266.73H488.0zM446.0 259.35H452.3V263.30H446.0zM458.0 259.35H461.3V263.30H458.0zM497.0 259.35H503.3V263.30H497.0zM437.0 255.79H443.3V259.80H437.0zM506.0 255.79H509.3V259.80H506.0zM518.0 255.79H521.3V259.80H518.0zM398.0 252.16H404.3V256.24H398.0zM506.0 252.16H512.3V256.24H506.0zM581.0 211.83H584.3V216.66H581.0zM728.0 207.36H731.3V212.28H728.0zM746.0 207.36H749.3V212.28H746.0zM719.0 198.17H725.3V203.26H719.0zM575.0 188.62H578.3V193.89H575.0zM584.0 188.62H587.3V193.89H584.0zM734.0 188.62H737.3V193.89H734.0zM740.0 188.62H743.3V193.89H740.0zM656.0 183.71H665.3V189.07H656.0zM698.0 183.71H701.3V189.07H698.0zM749.0 183.71H752.3V189.07H749.0zM524.0 178.71H527.3V184.16H524.0zM659.0 178.71H668.3V184.16H659.0zM701.0 178.71H707.3V184.16H701.0zM503.0 173.61H506.3V179.16H503.0zM614.0 173.61H620.3V179.16H614.0zM623.0 168.42H626.3V174.06H623.0zM698.0 168.42H701.3V174.06H698.0zM659.0 163.12H665.3V168.87H659.0zM716.0 163.12H719.3V168.87H716.0zM731.0 157.73H737.3V163.57H731.0zM734.0 152.23H737.3V158.18H734.0zM605.0 146.63H608.3V152.68H605.0zM719.0 146.63H725.3V152.68H719.0zM740.0 140.92H746.3V147.08H740.0zM746.0 135.10H749.3V141.37H746.0zM638.0 129.18H641.3V135.55H638.0zM737.0 129.18H740.3V135.55H737.0zM725.0 123.14H728.3V129.63H725.0zM665.0 116.98H668.3V123.59H665.0zM683.0 116.98H689.3V123.59H683.0z"/>
<path fill="#eef8b2" d="M215.0 376.31H218.3V378.07H215.0zM230.0 376.31H236.3V378.07H230.0zM242.0 374.97H245.3V376.76H242.0zM230.0 372.22H233.3V374.06H230.0zM146.0 370.81H149.3V372.67H146.0zM176.0 370.81H182.3V372.67H176.0zM284.0 370.81H293.3V372.67H284.0zM143.0 369.36H152.3V371.26H143.0zM170.0 369.36H173.3V371.26H170.0zM245.0 364.87H251.3V366.85H245.0zM236.0 363.32H242.3V365.32H236.0zM245.0 363.32H251.3V365.32H245.0zM191.0 361.74H200.3V363.77H191.0zM272.0 344.15H278.3V346.51H272.0zM140.0 336.13H299.3V338.64H140.0zM305.0 336.13H485.3V338.64H305.0zM302.0 331.88H311.3V334.48H302.0zM293.0 329.70H296.3V332.33H293.0zM326.0 329.70H332.3V332.33H326.0zM284.0 327.48H287.3V330.15H284.0zM290.0 327.48H293.3V330.15H290.0zM320.0 327.48H323.3V330.15H320.0zM284.0 325.21H287.3V327.93H284.0zM320.0 325.21H326.3V327.93H320.0zM443.0 285.56H449.3V289.02H443.0zM425.0 282.50H431.3V286.01H425.0zM455.0 282.50H461.3V286.01H455.0zM428.0 279.37H434.3V282.95H428.0zM440.0 279.37H443.3V282.95H440.0zM446.0 279.37H452.3V282.95H446.0zM464.0 279.37H473.3V282.95H464.0zM368.0 276.19H374.3V279.82H368.0zM392.0 276.19H395.3V279.82H392.0zM434.0 276.19H443.3V279.82H434.0zM485.0 276.19H491.3V279.82H485.0zM377.0 272.95H383.3V276.64H377.0zM389.0 272.95H392.3V276.64H389.0zM422.0 272.95H428.3V276.64H422.0zM434.0 272.95H443.3V276.64H434.0zM491.0 272.95H497.3V276.64H491.0zM392.0 269.65H395.3V273.40H392.0zM398.0 269.65H404.3V273.40H398.0zM410.0 269.65H422.3V273.40H410.0zM479.0 269.65H485.3V273.40H479.0zM428.0 266.28H434.3V270.10H428.0zM473.0 266.28H479.3V270.10H473.0zM455.0 262.85H458.3V266.73H455.0zM479.0 262.85H488.3V266.73H479.0zM398.0 259.35H407.3V263.30H398.0zM440.0 259.35H446.3V263.30H440.0zM488.0 259.35H497.3V263.30H488.0zM371.0 255.79H374.3V259.80H371.0zM428.0 255.79H437.3V259.80H428.0zM461.0 255.79H464.3V259.80H461.0zM503.0 255.79H506.3V259.80H503.0zM512.0 255.79H518.3V259.80H512.0zM392.0 252.16H398.3V256.24H392.0zM467.0 252.16H470.3V256.24H467.0zM503.0 252.16H506.3V256.24H503.0zM566.0 216.21H569.3V220.96H566.0zM581.0 216.21H584.3V220.96H581.0zM569.0 211.83H572.3V216.66H569.0zM578.0 211.83H581.3V216.66H578.0zM725.0 207.36H728.3V212.28H725.0zM743.0 207.36H746.3V212.28H743.0zM725.0 198.17H728.3V203.26H725.0zM710.0 193.44H731.3V198.62H710.0zM746.0 193.44H752.3V198.62H746.0zM578.0 188.62H584.3V193.89H578.0zM737.0 188.62H740.3V193.89H737.0zM506.0 183.71H512.3V189.07H506.0zM524.0 183.71H530.3V189.07H524.0zM644.0 183.71H656.3V189.07H644.0zM746.0 183.71H749.3V189.07H746.0zM518.0 178.71H524.3V184.16H518.0zM647.0 178.71H659.3V184.16H647.0zM698.0 178.71H701.3V184.16H698.0zM506.0 173.61H509.3V179.16H506.0zM608.0 168.42H611.3V174.06H608.0zM617.0 168.42H623.3V174.06H617.0zM653.0 163.12H659.3V168.87H653.0zM692.0 163.12H695.3V168.87H692.0zM710.0 163.12H716.3V168.87H710.0zM725.0 157.73H731.3V163.57H725.0zM593.0 152.23H596.3V158.18H593.0zM728.0 152.23H734.3V158.18H728.0zM716.0 146.63H719.3V152.68H716.0zM737.0 140.92H740.3V147.08H737.0zM740.0 135.10H746.3V141.37H740.0zM731.0 129.18H737.3V135.55H731.0zM632.0 123.14H635.3V129.63H632.0zM719.0 123.14H725.3V129.63H719.0zM635.0 116.98H638.3V123.59H635.0zM656.0 116.98H665.3V123.59H656.0zM671.0 116.98H677.3V123.59H671.0zM680.0 116.98H683.3V123.59H680.0z"/>
<path fill="#f2fab8" d="M218.0 376.31H230.3V378.07H218.0zM212.0 374.97H215.3V376.76H212.0zM236.0 374.97H242.3V376.76H236.0zM233.0 372.22H236.3V374.06H233.0zM149.0 370.81H152.3V372.67H149.0zM170.0 370.81H176.3V372.67H170.0zM227.0 370.81H230.3V372.67H227.0zM272.0 370.81H284.3V372.67H272.0zM152.0 369.36H155.3V371.26H152.0zM158.0 369.36H170.3V371.26H158.0zM230.0 364.87H245.3V366.85H230.0zM173.0 363.32H176.3V365.32H173.0zM224.0 363.32H236.3V365.32H224.0zM242.0 363.32H245.3V365.32H242.0zM182.0 361.74H191.3V363.77H182.0zM263.0 344.15H266.3V346.51H263.0zM269.0 344.15H272.3V346.51H269.0zM92.0 336.13H140.3V338.64H92.0zM299.0 336.13H305.3V338.64H299.0zM296.0 329.70H302.3V332.33H296.0zM320.0 329.70H326.3V332.33H320.0zM287.0 327.48H290.3V330.15H287.0zM293.0 327.48H305.3V330.15H293.0zM314.0 327.48H320.3V330.15H314.0zM299.0 325.21H308.3V327.93H299.0zM311.0 325.21H320.3V327.93H311.0zM440.0 285.56H443.3V289.02H440.0zM437.0 282.50H440.3V286.01H437.0zM446.0 282.50H455.3V286.01H446.0zM443.0 279.37H446.3V282.95H443.0zM452.0 279.37H455.3V282.95H452.0zM458.0 279.37H464.3V282.95H458.0zM365.0 276.19H368.3V279.82H365.0zM398.0 276.19H401.3V279.82H398.0zM428.0 276.19H434.3V279.82H428.0zM443.0 276.19H452.3V279.82H443.0zM479.0 276.19H485.3V279.82H479.0zM368.0 272.95H377.3V276.64H368.0zM392.0 272.95H395.3V276.64H392.0zM404.0 272.95H422.3V276.64H404.0zM428.0 272.95H434.3V276.64H428.0zM443.0 272.95H446.3V276.64H443.0zM479.0 272.95H491.3V276.64H479.0zM389.0 269.65H392.3V273.40H389.0zM395.0 269.65H398.3V273.40H395.0zM404.0 269.65H410.3V273.40H404.0zM404.0 266.28H413.3V270.10H404.0zM419.0 266.28H428.3V270.10H419.0zM446.0 266.28H449.3V270.10H446.0zM455.0 266.28H458.3V270.10H455.0zM464.0 266.28H473.3V270.10H464.0zM407.0 262.85H410.3V266.73H407.0zM437.0 262.85H455.3V266.73H437.0zM464.0 262.85H479.3V266.73H464.0zM377.0 259.35H383.3V263.30H377.0zM392.0 259.35H398.3V263.30H392.0zM407.0 259.35H410.3V263.30H407.0zM428.0 259.35H440.3V263.30H428.0zM476.0 259.35H488.3V263.30H476.0zM419.0 255.79H428.3V259.80H419.0zM491.0 255.79H503.3V259.80H491.0zM509.0 255.79H512.3V259.80H509.0zM380.0 252.16H383.3V256.24H380.0zM386.0 252.16H392.3V256.24H386.0zM473.0 252.16H476.3V256.24H473.0zM491.0 252.16H503.3V256.24H491.0zM575.0 216.21H581.3V220.96H575.0zM572.0 211.83H578.3V216.66H572.0zM710.0 202.81H725.3V207.81H710.0zM728.0 198.17H731.3V203.26H728.0zM731.0 193.44H746.3V198.62H731.0zM515.0 183.71H524.3V189.07H515.0zM530.0 183.71H536.3V189.07H530.0zM629.0 183.71H644.3V189.07H629.0zM734.0 183.71H746.3V189.07H734.0zM506.0 178.71H518.3V184.16H506.0zM509.0 173.61H515.3V179.16H509.0zM518.0 173.61H527.3V179.16H518.0zM611.0 168.42H617.3V174.06H611.0zM584.0 163.12H587.3V168.87H584.0zM593.0 163.12H599.3V168.87H593.0zM641.0 163.12H653.3V168.87H641.0zM701.0 163.12H710.3V168.87H701.0zM671.0 157.73H692.3V163.57H671.0zM716.0 157.73H725.3V163.57H716.0zM716.0 152.23H728.3V158.18H716.0zM641.0 146.63H650.3V152.68H641.0zM674.0 146.63H680.3V152.68H674.0zM707.0 146.63H716.3V152.68H707.0zM728.0 140.92H737.3V147.08H728.0zM734.0 135.10H740.3V141.37H734.0zM644.0 129.18H647.3V135.55H644.0zM725.0 129.18H731.3V135.55H725.0zM635.0 123.14H638.3V129.63H635.0zM710.0 123.14H719.3V129.63H710.0zM632.0 116.98H635.3V123.59H632.0zM638.0 116.98H641.3V123.59H638.0zM650.0 116.98H656.3V123.59H650.0zM677.0 116.98H680.3V123.59H677.0z"/>
<path fill="#f7fcbf" d="M215.0 374.97H218.3V376.76H215.0zM230.0 374.97H236.3V376.76H230.0zM236.0 372.22H239.3V374.06H236.0zM152.0 370.81H155.3V372.67H152.0zM161.0 370.81H170.3V372.67H161.0zM155.0 369.36H158.3V371.26H155.0zM221.0 364.87H230.3V366.85H221.0zM176.0 363.32H185.3V365.32H176.0zM215.0 363.32H224.3V365.32H215.0zM266.0 344.15H269.3V346.51H266.0zM305.0 327.48H308.3V330.15H305.0zM311.0 327.48H314.3V330.15H311.0zM287.0 325.21H299.3V327.93H287.0zM308.0 325.21H311.3V327.93H308.0zM431.0 282.50H437.3V286.01H431.0zM440.0 282.50H446.3V286.01H440.0zM455.0 279.37H458.3V282.95H455.0zM395.0 276.19H398.3V279.82H395.0zM395.0 272.95H404.3V276.64H395.0zM446.0 272.95H449.3V276.64H446.0zM446.0 269.65H449.3V273.40H446.0zM455.0 269.65H458.3V273.40H455.0zM413.0 266.28H419.3V270.10H413.0zM449.0 266.28H455.3V270.10H449.0zM458.0 266.28H464.3V270.10H458.0zM434.0 262.85H437.3V266.73H434.0zM458.0 262.85H464.3V266.73H458.0zM383.0 259.35H392.3V263.30H383.0zM419.0 259.35H428.3V263.30H419.0zM461.0 259.35H476.3V263.30H461.0zM374.0 255.79H377.3V259.80H374.0zM404.0 255.79H419.3V259.80H404.0zM464.0 255.79H470.3V259.80H464.0zM482.0 255.79H491.3V259.80H482.0zM383.0 252.16H386.3V256.24H383.0zM470.0 252.16H473.3V256.24H470.0zM479.0 252.16H491.3V256.24H479.0zM569.0 216.21H575.3V220.96H569.0zM512.0 183.71H515.3V189.07H512.0zM536.0 183.71H539.3V189.07H536.0zM566.0 183.71H575.3V189.07H566.0zM620.0 183.71H629.3V189.07H620.0zM527.0 178.71H530.3V184.16H527.0zM515.0 173.61H518.3V179.16H515.0zM527.0 173.61H530.3V179.16H527.0zM596.0 173.61H614.3V179.16H596.0zM587.0 163.12H593.3V168.87H587.0zM635.0 163.12H641.3V168.87H635.0zM695.0 163.12H701.3V168.87H695.0zM662.0 157.73H671.3V163.57H662.0zM707.0 157.73H716.3V163.57H707.0zM677.0 152.23H680.3V158.18H677.0zM710.0 152.23H716.3V158.18H710.0zM614.0 146.63H617.3V152.68H614.0zM635.0 146.63H641.3V152.68H635.0zM650.0 146.63H653.3V152.68H650.0zM662.0 146.63H674.3V152.68H662.0zM680.0 146.63H683.3V152.68H680.0zM704.0 146.63H707.3V152.68H704.0zM653.0 140.92H656.3V147.08H653.0zM662.0 140.92H665.3V147.08H662.0zM722.0 140.92H728.3V147.08H722.0zM656.0 135.10H659.3V141.37H656.0zM725.0 135.10H734.3V141.37H725.0zM647.0 129.18H659.3V135.55H647.0zM716.0 129.18H725.3V135.55H716.0zM704.0 123.14H710.3V129.63H704.0zM641.0 116.98H650.3V123.59H641.0z"/>
<path fill="#fbfdc5" d="M218.0 374.97H230.3V376.76H218.0zM155.0 370.81H161.3V372.67H155.0zM230.0 370.81H233.3V372.67H230.0zM215.0 364.87H221.3V366.85H215.0zM302.0 329.70H305.3V332.33H302.0zM314.0 329.70H320.3V332.33H314.0zM308.0 327.48H311.3V330.15H308.0zM449.0 272.95H452.3V276.64H449.0zM449.0 269.65H455.3V273.40H449.0zM410.0 262.85H413.3V266.73H410.0zM410.0 259.35H419.3V263.30H410.0zM377.0 255.79H380.3V259.80H377.0zM395.0 255.79H404.3V259.80H395.0zM473.0 255.79H482.3V259.80H473.0zM476.0 252.16H479.3V256.24H476.0zM734.0 202.81H737.3V207.81H734.0zM734.0 198.17H737.3V203.26H734.0zM539.0 183.71H545.3V189.07H539.0zM557.0 183.71H566.3V189.07H557.0zM611.0 183.71H620.3V189.07H611.0zM530.0 173.61H536.3V179.16H530.0zM566.0 173.61H581.3V179.16H566.0zM587.0 173.61H596.3V179.16H587.0zM602.0 163.12H608.3V168.87H602.0zM626.0 163.12H635.3V168.87H626.0zM587.0 157.73H590.3V163.57H587.0zM593.0 157.73H596.3V163.57H593.0zM653.0 157.73H662.3V163.57H653.0zM692.0 157.73H695.3V163.57H692.0zM701.0 157.73H707.3V163.57H701.0zM596.0 152.23H602.3V158.18H596.0zM668.0 152.23H677.3V158.18H668.0zM704.0 152.23H710.3V158.18H704.0zM629.0 146.63H635.3V152.68H629.0zM653.0 146.63H662.3V152.68H653.0zM686.0 146.63H689.3V152.68H686.0zM701.0 146.63H704.3V152.68H701.0zM656.0 140.92H662.3V147.08H656.0zM665.0 140.92H668.3V147.08H665.0zM716.0 140.92H722.3V147.08H716.0zM719.0 135.10H725.3V141.37H719.0zM710.0 129.18H716.3V135.55H710.0zM638.0 123.14H644.3V129.63H638.0zM656.0 123.14H659.3V129.63H656.0zM698.0 123.14H704.3V129.63H698.0z"/>
<path fill="#ffffcc" d="M185.0 363.32H188.3V365.32H185.0zM305.0 329.70H314.3V332.33H305.0zM452.0 276.19H455.3V279.82H452.0zM452.0 272.95H458.3V276.64H452.0zM380.0 255.79H383.3V259.80H380.0zM389.0 255.79H395.3V259.80H389.0zM470.0 255.79H473.3V259.80H470.0zM725.0 202.81H734.3V207.81H725.0zM737.0 202.81H740.3V207.81H737.0zM749.0 202.81H752.3V207.81H749.0zM731.0 198.17H734.3V203.26H731.0zM737.0 198.17H740.3V203.26H737.0zM746.0 198.17H752.3V203.26H746.0zM545.0 183.71H557.3V189.07H545.0zM602.0 183.71H611.3V189.07H602.0zM530.0 178.71H533.3V184.16H530.0zM536.0 173.61H542.3V179.16H536.0zM560.0 173.61H566.3V179.16H560.0zM581.0 173.61H587.3V179.16H581.0zM599.0 163.12H602.3V168.87H599.0zM608.0 163.12H611.3V168.87H608.0zM620.0 163.12H626.3V168.87H620.0zM590.0 157.73H593.3V163.57H590.0zM596.0 157.73H599.3V163.57H596.0zM644.0 157.73H653.3V163.57H644.0zM695.0 157.73H701.3V163.57H695.0zM662.0 152.23H668.3V158.18H662.0zM680.0 152.23H689.3V158.18H680.0zM698.0 152.23H704.3V158.18H698.0zM623.0 146.63H629.3V152.68H623.0zM683.0 146.63H686.3V152.68H683.0zM695.0 146.63H701.3V152.68H695.0zM674.0 140.92H677.3V147.08H674.0zM713.0 140.92H716.3V147.08H713.0zM659.0 135.10H665.3V141.37H659.0zM713.0 135.10H719.3V141.37H713.0zM707.0 129.18H710.3V135.55H707.0zM644.0 123.14H647.3V129.63H644.0zM650.0 123.14H656.3V129.63H650.0zM659.0 123.14H662.3V129.63H659.0zM692.0 123.14H698.3V129.63H692.0z"/>
<path fill="#fffac3" d="M233.0 370.81H236.3V372.67H233.0zM383.0 255.79H389.3V259.80H383.0zM740.0 202.81H749.3V207.81H740.0zM740.0 198.17H746.3V203.26H740.0zM575.0 183.71H578.3V189.07H575.0zM596.0 183.71H602.3V189.07H596.0zM542.0 173.61H560.3V179.16H542.0zM617.0 163.12H620.3V168.87H617.0zM638.0 157.73H644.3V163.57H638.0zM602.0 152.23H605.3V158.18H602.0zM644.0 152.23H662.3V158.18H644.0zM689.0 152.23H698.3V158.18H689.0zM617.0 146.63H623.3V152.68H617.0zM689.0 146.63H695.3V152.68H689.0zM671.0 140.92H674.3V147.08H671.0zM677.0 140.92H680.3V147.08H677.0zM710.0 135.10H713.3V141.37H710.0zM659.0 129.18H662.3V135.55H659.0zM701.0 129.18H707.3V135.55H701.0zM647.0 123.14H650.3V129.63H647.0zM668.0 123.14H671.3V129.63H668.0zM683.0 123.14H692.3V129.63H683.0z"/>
<path fill="#fff5ba" d="M263.0 373.61H272.3V375.42H263.0zM263.0 372.22H272.3V374.06H263.0zM236.0 370.81H239.3V372.67H236.0zM263.0 370.81H272.3V372.67H263.0zM212.0 366.40H215.3V368.35H212.0zM212.0 364.87H215.3V366.85H212.0zM212.0 363.32H215.3V365.32H212.0zM455.0 276.19H458.3V279.82H455.0zM590.0 183.71H596.3V189.07H590.0zM533.0 178.71H536.3V184.16H533.0zM611.0 163.12H617.3V168.87H611.0zM599.0 157.73H605.3V163.57H599.0zM632.0 157.73H638.3V163.57H632.0zM638.0 152.23H644.3V158.18H638.0zM668.0 140.92H671.3V147.08H668.0zM680.0 140.92H683.3V147.08H680.0zM665.0 135.10H668.3V141.37H665.0zM671.0 135.10H677.3V141.37H671.0zM704.0 135.10H710.3V141.37H704.0zM698.0 129.18H701.3V135.55H698.0zM662.0 123.14H668.3V129.63H662.0zM674.0 123.14H683.3V129.63H674.0z"/>
<path fill="#fef0b2" d="M254.0 373.61H263.3V375.42H254.0zM254.0 372.22H263.3V374.06H254.0zM254.0 370.81H263.3V372.67H254.0zM206.0 366.40H212.3V368.35H206.0zM206.0 364.87H212.3V366.85H206.0zM206.0 363.32H212.3V365.32H206.0zM473.0 276.19H479.3V279.82H473.0zM473.0 272.95H479.3V276.64H473.0zM473.0 269.65H479.3V273.40H473.0zM428.0 262.85H434.3V266.73H428.0zM584.0 183.71H590.3V189.07H584.0zM626.0 157.73H632.3V163.57H626.0zM608.0 152.23H611.3V158.18H608.0zM632.0 152.23H638.3V158.18H632.0zM668.0 135.10H671.3V141.37H668.0zM677.0 135.10H680.3V141.37H677.0zM701.0 135.10H704.3V141.37H701.0zM662.0 129.18H665.3V135.55H662.0zM692.0 129.18H698.3V135.55H692.0zM671.0 123.14H674.3V129.63H671.0z"/>
<path fill="#feeaa9" d="M245.0 373.61H254.3V375.42H245.0zM245.0 372.22H254.3V374.06H245.0zM245.0 370.81H254.3V372.67H245.0zM197.0 366.40H206.3V368.35H197.0zM197.0 364.87H206.3V366.85H197.0zM197.0 363.32H206.3V365.32H197.0zM467.0 276.19H473.3V279.82H467.0zM467.0 272.95H473.3V276.64H467.0zM467.0 269.65H473.3V273.40H467.0zM422.0 262.85H428.3V266.73H422.0zM578.0 183.71H584.3V189.07H578.0zM536.0 178.71H539.3V184.16H536.0zM638.0 178.71H647.3V184.16H638.0zM605.0 157.73H608.3V163.57H605.0zM623.0 157.73H626.3V163.57H623.0zM605.0 152.23H608.3V158.18H605.0zM611.0 152.23H614.3V158.18H611.0zM629.0 152.23H632.3V158.18H629.0zM683.0 140.92H689.3V147.08H683.0zM710.0 140.92H713.3V147.08H710.0zM680.0 135.10H686.3V141.37H680.0zM698.0 135.10H701.3V141.37H698.0zM668.0 129.18H692.3V135.55H668.0z"/>
<path fill="#fee5a1" d="M239.0 373.61H245.3V375.42H239.0zM239.0 372.22H245.3V374.06H239.0zM239.0 370.81H245.3V372.67H239.0zM191.0 366.40H197.3V368.35H191.0zM191.0 364.87H197.3V366.85H191.0zM191.0 363.32H197.3V365.32H191.0zM461.0 276.19H467.3V279.82H461.0zM461.0 272.95H467.3V276.64H461.0zM461.0 269.65H467.3V273.40H461.0zM416.0 262.85H422.3V266.73H416.0zM626.0 178.71H638.3V184.16H626.0zM608.0 157.73H611.3V163.57H608.0zM620.0 157.73H623.3V163.57H620.0zM626.0 152.23H629.3V158.18H626.0zM689.0 140.92H692.3V147.08H689.0zM707.0 140.92H710.3V147.08H707.0zM692.0 135.10H698.3V141.37H692.0zM665.0 129.18H668.3V135.55H665.0z"/>
<path fill="#fedc9a" d="M188.0 366.40H191.3V368.35H188.0zM188.0 364.87H191.3V366.85H188.0zM188.0 363.32H191.3V365.32H188.0zM458.0 276.19H461.3V279.82H458.0zM458.0 272.95H461.3V276.64H458.0zM458.0 269.65H461.3V273.40H458.0zM413.0 262.85H416.3V266.73H413.0zM614.0 178.71H626.3V184.16H614.0zM611.0 157.73H620.3V163.57H611.0zM623.0 152.23H626.3V158.18H623.0zM704.0 140.92H707.3V147.08H704.0zM686.0 135.10H692.3V141.37H686.0z"/>
<path fill="#fed493" d="M602.0 178.71H614.3V184.16H602.0zM614.0 152.23H623.3V158.18H614.0zM701.0 140.92H704.3V147.08H701.0z"/>
<path fill="#fecc8c" d="M590.0 178.71H602.3V184.16H590.0zM698.0 140.92H701.3V147.08H698.0z"/>
<path fill="#fec385" d="M578.0 178.71H590.3V184.16H578.0zM695.0 140.92H698.3V147.08H695.0z"/>
<path fill="#fdba7f" d="M569.0 178.71H578.3V184.16H569.0zM692.0 140.92H695.3V147.08H692.0z"/>
<path fill="#fbaf7a" d="M566.0 178.71H569.3V184.16H566.0z"/>
<path fill="#f78f6b" d="M563.0 178.71H566.3V184.16H563.0z"/>
<path fill="#f3866a" d="M554.0 178.71H563.3V184.16H554.0z"/>
<path fill="#ee7e6c" d="M548.0 178.71H554.3V184.16H548.0z"/>
<path fill="#e9766e" d="M539.0 178.71H548.3V184.16H539.0z"/>
<path fill="#e46e70" d="M704.0 211.83H752.3V216.66H704.0z"/>
</g>
<text x="238.5" y="261.7" font-size="74" class="dj" fill="#000" stroke="#000" stroke-width="1.2" opacity="0.075" textLength="381" lengthAdjust="spacing">glassnode</text>
<path d="M121.4 393.6v7M158.2 393.6v7M195.0 393.6v7M231.9 393.6v7M268.7 393.6v7M306.1 393.6v7M342.3 393.6v7M379.1 393.6v7M416.0 393.6v7M452.8 393.6v7M489.6 393.6v7M527.0 393.6v7M562.6 393.6v7M599.5 393.6v7M636.3 393.6v7M673.1 393.6v7M709.9 393.6v7M747.3 393.6v7" stroke="#ebebeb" stroke-width="1" fill="none"/>
<path d="M92.7 387.2 92.7 387.2 93.3 385.5 93.9 383.9 94.6 382.0 95.2 379.9 95.5 379.5 95.8 379.4 96.4 379.7 97.0 380.8 97.7 382.2 98.3 382.3 98.9 382.6 99.0 383.0 99.5 383.0 100.1 383.1 100.8 382.9 101.4 382.3 102.0 382.4 102.4 382.5 102.6 383.0 103.2 382.9 103.9 383.7 104.5 383.7 105.1 384.4 105.5 386.0 105.7 385.1 106.3 387.3 107.0 388.6 107.6 390.8 107.6 391.2 108.2 387.6 108.8 384.0 109.4 380.7 109.4 379.2 110.1 377.5 110.7 375.8 111.3 373.9 111.9 371.1 112.4 370.2 112.5 369.6 113.2 369.7 113.8 369.9 114.4 371.0 115.0 370.7 115.6 371.0 116.3 371.7 116.4 371.4 116.9 370.9 117.5 370.5 118.1 370.2 118.7 369.8 119.4 368.8 119.9 369.0 120.0 368.8 120.6 369.8 121.2 368.8 121.8 369.7 122.5 369.8 123.1 369.6 123.7 370.9 124.3 370.9 124.5 370.2 124.9 369.2 125.6 368.2 126.2 367.5 126.8 366.1 127.4 365.4 128.0 364.0 128.0 364.1 128.7 364.4 129.3 364.9 129.9 364.1 130.5 364.1 131.0 364.0 131.1 364.3 131.8 366.8 132.4 368.5 133.0 371.4 133.0 370.8 133.6 370.3 134.2 370.2 134.9 369.9 135.5 368.1 136.1 367.2 136.7 367.1 137.3 366.3 137.3 365.3 138.0 365.6 138.6 366.0 139.2 366.8 139.8 366.9 140.4 366.4 140.8 366.3 141.1 366.5 141.7 367.4 142.3 369.2 142.9 369.5 143.5 370.2 144.2 371.3 144.3 371.4 144.8 371.6 145.4 371.7 146.0 371.4 146.6 371.9 147.3 372.0 147.9 373.0 148.5 373.3 149.1 373.2 149.7 373.6 150.0 373.3 150.4 373.1 151.0 373.2 151.6 372.5 152.2 372.3 152.8 371.0 153.5 371.0 154.1 369.8 154.7 368.9 154.8 370.2 155.3 369.8 155.9 370.3 156.6 371.3 157.2 373.1 157.8 372.7 158.4 372.8 159.0 373.6 159.7 374.4 160.3 374.7 160.6 374.9 160.9 375.0 161.5 375.8 162.1 376.3 162.8 376.0 163.4 376.5 164.0 377.0 164.6 377.0 165.2 377.9 165.2 377.7 165.9 376.6 166.5 376.6 167.1 375.8 167.7 375.0 168.3 373.9 168.7 373.7 169.0 372.2 169.6 368.1 170.2 365.0 170.6 364.0 170.8 363.7 171.4 362.7 172.1 363.7 172.7 362.9 173.3 363.7 173.9 363.2 174.5 363.8 175.2 363.7 175.8 362.8 176.4 363.8 177.0 364.3 177.6 363.7 178.0 363.3 178.3 363.2 178.9 362.8 179.5 362.1 180.1 362.7 180.7 361.9 181.4 361.7 182.0 361.1 182.6 360.7 183.1 361.0 183.2 360.3 183.8 362.4 184.5 363.2 185.0 364.0 185.1 364.5 185.7 364.5 186.3 364.3 186.9 364.5 187.6 364.6 188.2 365.1 188.8 365.2 189.4 365.5 190.0 365.2 190.7 365.5 190.8 366.3 191.3 366.7 191.9 366.1 192.5 365.6 193.1 366.1 193.8 366.8 194.4 365.6 195.0 365.7 195.6 365.5 196.2 364.9 196.9 365.8 197.5 365.8 198.1 365.8 198.7 365.4 199.3 365.8 200.0 365.4 200.6 365.5 201.2 365.0 201.3 365.6 201.8 365.0 202.4 366.4 203.1 366.3 203.6 366.7 203.7 367.3 204.3 371.5 204.8 374.9 204.9 374.7 205.5 374.6 206.2 375.2 206.8 375.0 207.4 375.1 208.0 375.2 208.6 375.9 209.3 375.9 209.9 375.9 210.5 375.4 211.1 374.8 211.7 375.6 211.7 375.8 212.4 376.3 213.0 376.1 213.6 376.4 214.2 376.7 214.8 377.0 215.5 377.2 216.1 376.7 216.7 377.6 217.3 376.6 217.9 377.3 218.6 377.6 218.7 377.2 219.2 377.5 219.8 377.8 220.4 377.5 221.0 375.8 221.7 374.6 222.3 375.1 222.9 374.2 223.5 374.1 224.1 374.2 224.5 373.7 224.8 372.9 225.4 372.1 226.0 372.7 226.6 372.8 227.2 372.6 227.9 372.5 228.5 371.9 229.1 371.2 229.7 371.5 230.3 371.1 231.0 370.4 231.5 371.4 231.6 371.2 232.2 371.4 232.8 371.8 233.4 371.3 234.1 371.3 234.7 371.2 235.3 371.3 235.9 371.9 236.5 371.8 237.2 372.3 237.8 372.6 238.4 373.7 238.5 372.6 239.0 371.7 239.6 371.4 240.3 370.3 240.9 369.4 241.5 367.9 242.0 367.9 242.1 366.8 242.7 364.8 243.4 362.0 244.0 359.4 244.6 356.6 245.2 354.5 245.5 352.8 245.8 352.9 246.5 351.4 247.1 351.3 247.7 350.5 248.3 349.4 248.9 350.1 249.6 351.2 250.0 350.9 250.2 350.8 250.8 349.7 251.4 349.0 252.0 349.4 252.7 348.8 253.3 348.2 253.9 347.6 254.5 347.1 255.1 346.9 255.8 346.5 256.0 345.8 256.4 346.1 257.0 345.4 257.6 345.9 258.2 345.5 258.9 346.2 259.5 345.3 260.1 345.5 260.7 345.7 261.3 345.1 261.7 345.8 262.0 346.2 262.6 346.4 263.2 345.4 263.8 345.5 264.4 345.1 265.1 343.4 265.7 343.9 266.3 343.8 266.9 343.7 267.5 343.0 267.6 343.5 268.2 340.5 268.8 337.7 269.4 335.6 270.0 332.3 270.0 332.7 270.6 331.2 271.3 330.7 271.9 328.7 272.3 327.7 272.5 327.9 273.1 328.1 273.7 330.9 274.4 332.4 274.7 332.3 275.0 332.7 275.6 331.8 276.2 330.6 276.8 329.6 277.5 328.4 278.0 327.7 278.1 327.6 278.7 328.1 279.3 329.4 279.9 329.7 280.6 329.6 281.2 329.5 281.6 330.0 281.8 329.3 282.4 329.9 283.0 329.2 283.7 328.3 284.3 327.3 284.9 326.0 285.5 325.7 286.1 325.8 286.3 325.3 286.8 325.7 287.4 326.3 288.0 326.9 288.6 327.7 288.6 327.6 289.2 324.2 289.9 322.2 290.5 319.6 291.0 318.4 291.1 318.7 291.7 318.3 292.3 319.2 293.0 320.4 293.3 319.5 293.6 322.1 294.2 326.9 294.4 328.8 294.8 329.4 295.4 330.2 296.1 330.4 296.7 331.8 297.3 333.7 297.9 333.7 298.0 333.5 298.5 334.9 299.2 335.9 299.8 337.9 299.8 338.0 300.4 336.1 301.0 334.6 301.6 334.5 302.3 332.6 302.9 332.1 303.5 331.5 303.7 330.0 304.1 330.6 304.7 330.6 305.4 331.4 306.0 330.5 306.6 329.9 307.2 329.2 307.8 329.7 308.4 330.0 308.5 330.4 309.1 327.1 309.7 322.6 310.3 318.7 310.7 317.2 310.9 315.7 311.6 314.0 312.2 311.6 312.8 309.6 313.4 307.5 314.0 304.9 314.2 304.4 314.7 304.4 315.3 304.8 315.9 304.8 316.5 305.4 317.1 306.8 317.8 306.6 318.4 306.1 318.8 305.6 319.0 303.7 319.6 301.9 320.2 297.6 320.7 297.4 320.9 293.2 321.5 287.0 322.1 279.8 322.3 276.5 322.7 276.4 323.3 274.2 324.0 274.5 324.6 274.1 324.7 275.3 325.2 268.6 325.8 260.2 325.8 263.0 326.4 261.1 327.1 258.6 327.7 256.7 328.0 257.9 328.3 255.5 328.9 252.5 329.5 248.0 330.0 247.4 330.2 247.3 330.8 248.5 331.4 253.2 331.6 253.3 332.0 259.5 332.6 266.6 333.3 271.8 333.3 271.9 333.9 270.2 334.5 267.1 335.0 264.9 335.1 265.3 335.7 269.0 336.3 273.0 336.4 270.7 337.0 263.6 337.6 259.5 338.0 255.6 338.2 255.1 338.8 255.1 339.5 255.8 340.1 252.4 340.7 251.8 341.0 253.3 341.3 254.4 341.9 258.3 342.6 260.8 343.2 265.3 343.3 264.9 343.8 262.8 344.4 257.5 345.0 253.4 345.6 252.0 345.7 252.3 346.3 253.7 346.9 251.9 347.5 255.6 348.0 255.6 348.1 258.3 348.8 266.4 349.0 267.2 349.4 268.9 350.0 270.3 350.6 271.1 351.2 276.5 351.9 277.1 351.9 276.5 352.5 275.7 353.1 270.7 353.7 267.6 354.2 264.9 354.3 263.5 355.0 265.6 355.6 269.0 356.0 269.5 356.2 268.8 356.8 271.9 357.4 273.2 358.1 272.9 358.7 274.1 358.8 275.3 359.3 278.2 359.9 283.3 360.2 285.8 360.5 282.5 361.2 277.4 361.8 273.0 361.9 273.0 362.4 272.8 363.0 273.8 363.6 276.4 364.2 278.8 364.3 279.3 364.9 277.4 365.5 278.2 366.1 277.9 366.5 278.8 366.7 276.1 367.4 274.7 368.0 270.9 368.6 269.7 368.8 267.2 369.2 264.3 369.8 261.0 370.5 256.6 371.1 251.7 371.2 252.0 371.7 253.8 372.3 255.3 372.9 258.0 373.5 259.0 373.6 259.3 374.2 258.0 374.8 258.8 375.4 259.4 376.0 260.9 376.7 259.5 377.0 260.2 377.3 260.1 377.9 258.6 378.5 261.0 378.8 261.4 379.1 258.9 379.8 255.3 380.4 254.7 381.0 254.7 381.2 253.3 381.6 252.2 382.2 252.5 382.9 253.5 383.5 253.8 384.0 256.7 384.1 256.5 384.7 257.7 385.3 259.4 386.0 262.7 386.3 263.7 386.6 263.2 387.2 265.0 387.8 264.7 388.4 264.7 389.1 264.5 389.7 269.0 389.8 268.4 390.3 270.1 390.9 272.4 391.5 274.3 392.2 276.4 392.8 278.4 393.3 280.0 393.4 282.0 394.0 279.5 394.6 277.6 395.3 277.2 395.6 278.8 395.9 275.9 396.5 276.3 397.1 275.7 397.4 274.2 397.7 277.0 398.4 282.3 399.0 289.3 399.0 290.5 399.6 292.1 400.2 289.9 400.7 292.8 400.8 292.0 401.5 290.0 402.1 290.3 402.7 287.8 403.0 288.0 403.3 284.4 403.9 277.6 404.6 271.9 404.9 270.7 405.2 270.9 405.8 270.5 406.4 268.5 407.0 266.5 407.2 267.2 407.7 263.1 408.3 262.1 408.9 260.9 409.0 261.4 409.5 261.7 410.1 262.7 410.8 262.5 411.4 264.1 411.4 264.9 412.0 261.4 412.3 260.2 412.6 262.4 413.2 265.6 413.9 265.6 414.5 265.8 415.1 267.6 415.3 268.4 415.7 271.9 416.3 277.9 417.0 284.9 417.0 285.8 417.6 291.9 417.9 297.0 418.2 294.4 418.8 288.9 419.4 283.9 420.0 278.8 420.1 278.9 420.7 280.1 421.3 281.5 421.9 283.8 422.3 285.8 422.5 284.8 423.2 285.2 423.8 285.0 424.4 283.5 424.7 284.7 425.0 284.3 425.6 283.6 426.3 284.1 426.9 284.9 427.0 285.8 427.5 280.3 428.1 278.0 428.7 275.0 429.3 271.9 429.4 272.1 430.0 276.8 430.6 281.7 430.9 284.7 431.2 283.6 431.8 284.2 432.5 284.3 433.1 285.2 433.7 284.4 434.0 285.8 434.3 286.8 434.9 289.8 435.6 292.3 436.2 294.6 436.8 298.0 437.0 298.6 437.4 295.7 438.0 294.5 438.7 292.4 439.3 290.3 439.8 288.0 439.9 288.3 440.5 285.9 441.1 284.3 441.8 283.7 442.4 282.4 442.6 281.2 443.0 280.4 443.6 276.5 444.2 275.8 444.4 275.3 444.9 275.9 445.5 275.5 446.1 274.1 446.7 271.0 447.3 271.9 447.9 270.7 448.0 270.7 448.6 266.8 449.2 267.9 449.8 265.7 450.2 267.2 450.4 266.0 451.1 269.6 451.7 275.0 452.3 277.2 452.6 278.8 452.9 278.7 453.5 279.8 454.2 279.8 454.8 277.7 454.9 276.5 455.4 277.7 456.0 277.6 456.6 278.8 457.2 281.2 457.3 280.7 457.9 277.4 458.5 273.6 459.1 270.8 459.5 267.2 459.7 265.6 460.4 262.6 460.8 260.5 461.0 261.2 461.6 261.0 462.2 261.2 462.8 260.3 463.5 258.7 464.1 258.6 464.7 256.6 465.3 254.7 465.5 257.0 465.9 255.6 466.6 254.3 467.2 253.3 467.8 249.6 468.4 248.8 469.0 248.8 469.0 247.6 469.7 250.1 470.3 251.0 470.9 255.5 471.3 259.3 471.5 257.5 472.1 252.3 472.8 245.5 473.4 240.1 473.6 238.4 474.0 236.1 474.6 226.5 475.2 223.3 475.9 220.1 475.9 219.8 476.5 214.8 477.1 210.5 477.7 204.1 477.8 200.0 478.3 201.4 479.0 200.2 479.6 200.1 480.1 197.7 480.2 197.3 480.8 195.0 481.4 194.3 481.7 191.9 482.1 192.5 482.7 184.6 483.3 178.2 483.4 176.7 483.9 181.0 484.5 187.2 485.2 190.2 485.7 193.0 485.8 195.5 486.4 190.3 487.0 187.9 487.6 185.7 488.0 184.9 488.3 185.4 488.9 185.3 489.5 180.5 490.1 178.6 490.7 179.1 491.0 179.0 491.4 176.5 492.0 172.7 492.6 173.9 493.2 172.4 493.4 170.9 493.8 175.8 494.5 179.6 494.5 180.2 495.1 178.2 495.7 173.2 496.3 171.0 496.4 168.6 496.9 164.4 497.6 159.3 498.2 156.4 498.3 156.0 498.8 159.6 499.4 167.5 500.0 173.7 500.3 175.6 500.7 176.2 501.3 180.0 501.9 182.7 502.2 184.9 502.5 184.4 503.1 179.6 503.8 176.0 503.8 176.7 504.4 181.3 505.0 187.4 505.6 191.5 506.2 189.5 506.2 191.8 506.9 189.2 507.5 189.3 508.0 184.9 508.1 185.5 508.7 179.4 509.3 176.3 510.0 173.2 510.6 167.7 510.8 167.4 511.2 169.7 511.8 177.4 512.4 188.9 512.7 193.0 513.1 189.9 513.7 187.7 514.3 185.7 514.9 183.9 515.0 182.6 515.5 177.8 516.2 173.2 516.6 168.6 516.8 166.8 517.4 164.5 518.0 161.2 518.6 161.8 519.3 159.0 519.7 157.0 519.9 156.6 520.5 158.7 521.1 161.1 521.7 164.8 522.4 163.9 522.4 166.3 523.0 162.2 523.6 161.6 524.2 165.1 524.8 160.5 524.8 163.8 525.5 166.2 526.1 170.9 526.7 177.6 527.0 175.6 527.3 177.8 527.9 177.9 528.6 181.3 529.2 182.5 529.4 181.4 529.8 183.1 530.4 181.1 531.0 183.9 531.7 184.7 532.3 183.2 532.9 180.2 532.9 182.5 533.5 178.7 534.1 181.5 534.8 181.8 535.2 182.6 535.4 182.8 536.0 182.4 536.6 179.9 537.2 175.9 537.6 177.9 537.9 178.3 538.5 180.0 539.1 182.8 539.7 185.0 539.9 187.2 540.3 191.3 541.0 195.8 541.6 207.5 542.2 215.0 542.2 215.4 542.8 211.4 543.4 207.9 544.0 198.8 544.1 200.9 544.7 200.0 545.3 202.7 545.9 205.0 546.2 209.3 546.5 210.0 547.2 216.5 547.8 219.0 548.4 226.7 548.7 230.2 549.0 225.7 549.6 224.2 550.3 221.0 550.8 218.6 550.9 217.6 551.5 216.0 552.1 213.4 552.7 211.1 553.4 207.3 553.8 209.3 554.0 208.5 554.6 214.8 555.2 219.3 555.5 216.3 555.8 218.7 556.5 214.8 557.1 209.2 557.3 208.0 557.7 212.4 558.3 214.0 558.9 216.4 559.6 218.8 559.7 219.8 560.2 219.4 560.8 218.1 561.4 217.8 562.0 215.8 562.4 217.4 562.7 216.9 563.3 223.6 563.9 224.1 564.3 224.4 564.5 226.3 565.1 232.0 565.8 237.5 565.9 237.2 566.4 231.8 567.0 226.4 567.6 222.5 567.8 219.8 568.2 220.0 568.9 218.7 569.5 219.9 570.0 216.3 570.1 216.3 570.7 215.7 571.3 214.0 572.0 216.1 572.6 211.1 573.0 212.8 573.2 208.4 573.8 201.5 574.4 196.3 574.8 191.9 575.1 192.6 575.7 193.2 576.3 188.2 576.9 189.1 577.0 188.4 577.5 187.3 578.2 185.4 578.8 185.9 579.4 183.2 580.0 179.6 580.6 182.6 580.6 180.3 581.3 180.0 581.9 181.7 582.0 184.5 582.5 178.5 583.1 172.5 583.7 168.1 583.8 164.8 584.4 165.2 585.0 161.7 585.6 161.1 586.2 160.3 586.6 162.4 586.8 159.4 587.5 161.7 588.1 161.1 588.7 158.6 589.3 161.8 589.4 162.4 589.9 159.3 590.6 157.1 591.2 154.0 591.3 153.1 591.8 150.6 592.4 145.6 592.9 141.5 593.0 144.4 593.7 146.9 594.3 149.6 594.8 150.8 594.9 152.3 595.5 150.5 596.1 152.5 596.8 153.9 597.1 155.5 597.4 156.0 598.0 155.1 598.6 160.2 599.2 160.7 599.4 160.1 599.9 160.9 600.5 162.2 601.0 168.3 601.1 165.4 601.7 160.6 602.3 154.3 603.0 149.7 603.4 146.2 603.6 145.8 604.2 150.6 604.8 152.5 605.2 155.5 605.4 155.3 606.1 158.1 606.7 162.4 607.3 159.1 607.6 159.0 607.9 159.6 608.5 160.6 609.2 164.9 609.8 164.8 610.4 167.1 611.0 170.6 611.0 169.8 611.6 165.3 612.3 161.5 612.9 158.7 613.4 157.8 613.5 153.4 614.1 152.2 614.7 152.7 615.4 153.1 616.0 152.1 616.4 152.0 616.6 148.7 617.2 149.1 617.8 151.0 618.5 151.2 619.1 149.9 619.7 147.8 620.3 148.5 620.3 148.7 620.9 141.6 621.6 134.1 622.2 128.0 622.7 125.2 622.8 126.1 623.4 123.5 624.0 122.6 624.3 119.4 624.7 120.2 625.3 122.5 625.9 121.6 626.5 122.4 627.1 127.6 627.3 124.0 627.8 126.1 628.4 122.5 629.0 120.8 629.6 120.1 629.7 119.4 630.2 122.7 630.9 121.9 631.5 120.3 632.0 124.0 632.1 122.4 632.7 123.7 633.3 124.5 634.0 127.1 634.3 125.2 634.6 128.2 635.2 132.2 635.8 132.8 636.4 138.1 636.6 138.0 637.1 139.8 637.7 136.3 638.3 132.4 638.9 129.0 639.0 127.6 639.5 129.8 640.2 125.2 640.8 123.8 641.3 122.9 641.4 122.8 642.0 119.1 642.6 113.1 642.9 111.2 643.3 114.3 643.9 118.2 644.5 123.1 644.8 125.2 645.1 127.3 645.7 130.0 646.4 135.4 646.6 138.0 647.0 136.7 647.6 130.8 648.2 127.2 648.3 127.6 648.8 131.5 649.5 133.2 650.1 138.0 650.6 141.5 650.7 140.0 651.3 145.0 651.9 150.4 652.6 153.6 652.9 149.7 653.2 150.8 653.8 149.0 654.4 146.2 655.0 143.9 655.2 142.7 655.7 145.7 656.3 142.3 656.9 144.8 657.5 144.3 657.6 143.8 658.1 143.8 658.8 140.0 659.4 135.3 659.9 133.4 660.0 133.5 660.6 133.3 661.2 131.4 661.9 130.7 662.5 128.1 662.9 127.6 663.1 124.2 663.7 128.1 664.3 129.8 665.0 130.0 665.6 130.2 665.7 129.9 666.2 134.8 666.8 136.8 667.4 139.4 667.6 141.5 668.1 142.4 668.7 147.0 669.2 147.3 669.3 145.1 669.9 143.8 670.5 138.0 671.2 132.5 671.5 132.2 671.8 130.8 672.4 124.3 673.0 116.4 673.4 114.8 673.6 112.1 674.3 111.0 674.9 109.1 675.0 106.2 675.5 108.5 676.1 111.4 676.7 114.5 676.9 113.6 677.4 121.3 678.0 132.8 678.5 141.5 678.6 141.1 679.2 136.8 679.8 133.1 680.0 133.4 680.5 137.2 681.1 143.2 681.7 148.1 682.3 153.6 682.4 155.5 682.9 154.4 683.6 151.4 684.2 149.6 684.3 147.3 684.8 147.5 685.4 143.7 686.0 143.0 686.7 135.9 687.0 133.4 687.3 136.2 687.9 137.3 688.5 142.6 689.0 141.5 689.1 146.3 689.8 144.1 690.4 146.5 690.8 150.8 691.0 151.6 691.6 155.1 692.2 157.8 692.4 156.6 692.9 161.0 693.5 166.3 694.0 169.4 694.1 170.3 694.7 165.8 695.3 163.5 696.0 155.3 696.0 157.8 696.6 163.5 697.2 170.0 697.2 168.2 697.8 175.2 698.4 178.9 699.0 183.0 699.1 181.8 699.7 186.1 700.3 187.6 700.9 189.8 701.0 192.3 701.5 193.6 702.2 200.9 702.8 208.0 702.8 208.1 703.4 214.2 703.7 214.7 704.0 212.5 704.6 208.7 705.3 202.5 705.6 198.8 705.9 198.9 706.5 199.4 707.1 200.3 707.4 198.0 707.7 200.8 708.4 204.4 709.0 208.5 709.0 209.0 709.6 201.7 710.2 192.7 710.4 192.0 710.8 195.4 711.5 197.6 712.0 200.7 712.1 201.1 712.7 197.1 713.3 195.9 713.9 194.2 714.0 193.3 714.6 195.2 715.2 201.2 715.8 200.7 715.8 202.7 716.4 206.6 717.0 208.2 717.7 207.4 717.7 207.2 718.3 208.6 718.9 211.5 719.2 211.9 719.5 210.6 720.1 207.4 720.5 205.3 720.8 205.0 721.4 202.6 722.0 204.1 722.6 201.7 723.2 204.9 723.3 206.3 723.9 204.8 724.5 205.0 725.0 207.2 725.1 205.9 725.7 206.3 726.3 203.4 727.0 201.2 727.5 204.4 727.6 200.5 728.2 195.4 728.8 192.7 729.4 193.6 729.8 190.5 730.1 190.3 730.7 194.6 731.3 194.8 731.6 198.0 731.9 197.6 732.5 197.3 733.2 197.6 733.5 198.0 733.8 196.2 734.4 193.1 735.0 186.2 735.3 182.0 735.6 183.8 736.3 183.3 736.9 186.3 737.2 186.7 737.5 189.3 738.1 196.5 738.7 201.6 739.0 203.5 739.4 206.3 740.0 201.2 740.6 201.5 741.0 202.6 741.2 203.6 741.8 203.3 742.5 202.7 742.8 204.4 743.1 205.3 743.7 207.9 744.3 214.7 744.3 213.8 744.9 222.7 745.6 227.0 745.6 224.0 746.2 228.9 746.8 233.3 747.4 240.0 747.4 239.4 748.0 258.2 748.7 273.6 748.7 275.3 749.3 266.7 749.9 260.3 750.2 255.8 750.5 257.7 751.1 257.7 751.7 258.6 751.8 257.3" fill="none" stroke="#000" stroke-width="1.8" stroke-linejoin="round" stroke-linecap="round"/>
<g font-size="8.3" fill="#6a6a6a"><text x="80.4" y="394.7" text-anchor="end" textLength="13.7" lengthAdjust="spacingAndGlyphs">20K</text><text x="80.4" y="367.3" text-anchor="end" textLength="13.7" lengthAdjust="spacingAndGlyphs">30K</text><text x="80.4" y="340.0" text-anchor="end" textLength="13.7" lengthAdjust="spacingAndGlyphs">40K</text><text x="80.4" y="312.6" text-anchor="end" textLength="13.7" lengthAdjust="spacingAndGlyphs">50K</text><text x="80.4" y="285.3" text-anchor="end" textLength="13.7" lengthAdjust="spacingAndGlyphs">60K</text><text x="80.4" y="257.9" text-anchor="end" textLength="13.7" lengthAdjust="spacingAndGlyphs">70K</text><text x="80.4" y="230.6" text-anchor="end" textLength="13.7" lengthAdjust="spacingAndGlyphs">80K</text><text x="80.4" y="203.3" text-anchor="end" textLength="13.7" lengthAdjust="spacingAndGlyphs">90K</text><text x="80.4" y="175.9" text-anchor="end" textLength="17.4" lengthAdjust="spacingAndGlyphs">100K</text><text x="80.4" y="148.6" text-anchor="end" textLength="17.4" lengthAdjust="spacingAndGlyphs">110K</text><text x="80.4" y="121.2" text-anchor="end" textLength="17.4" lengthAdjust="spacingAndGlyphs">120K</text></g>
<g font-size="8.5" fill="#6a6a6a"><text x="121.4" y="411.9" text-anchor="middle">Apr '23</text><text x="158.2" y="411.9" text-anchor="middle">Jun '23</text><text x="195.0" y="411.9" text-anchor="middle">Aug '23</text><text x="231.9" y="411.9" text-anchor="middle">Oct '23</text><text x="268.7" y="411.9" text-anchor="middle">Dec '23</text><text x="306.1" y="411.9" text-anchor="middle">Feb '24</text><text x="342.3" y="411.9" text-anchor="middle">Apr '24</text><text x="379.1" y="411.9" text-anchor="middle">Jun '24</text><text x="416.0" y="411.9" text-anchor="middle">Aug '24</text><text x="452.8" y="411.9" text-anchor="middle">Oct '24</text><text x="489.6" y="411.9" text-anchor="middle">Dec '24</text><text x="527.0" y="411.9" text-anchor="middle">Feb '25</text><text x="562.6" y="411.9" text-anchor="middle">Apr '25</text><text x="599.5" y="411.9" text-anchor="middle">Jun '25</text><text x="636.3" y="411.9" text-anchor="middle">Aug '25</text><text x="673.1" y="411.9" text-anchor="middle">Oct '25</text><text x="709.9" y="411.9" text-anchor="middle">Dec '25</text><text x="747.3" y="411.9" text-anchor="middle">Feb '26</text></g>
<text x="801.5" y="105.8" font-size="7" text-anchor="middle" fill="#222" textLength="19.8" lengthAdjust="spacingAndGlyphs">Supply</text>
<text x="802.3" y="121.2" font-size="6.2" text-anchor="middle" fill="#111" stroke="#111" stroke-width="0.12">1 M</text>
<rect x="795.3" y="128.8" width="13.7" height="266.8" fill="url(#cb)"/>
<text x="802.2" y="409" font-size="6.3" text-anchor="middle" fill="#111" stroke="#111" stroke-width="0.12">0</text>
<text x="21.5" y="462.2" font-size="11.2" fill="#707070" stroke="#707070" stroke-width="0.12" textLength="203" lengthAdjust="spacing">© 2026 Glassnode. All Rights Reserved.</text>
<text x="731.3" y="465.8" font-size="20.3" class="dj" fill="#111" stroke="#111" stroke-width="0.6" textLength="107" lengthAdjust="spacing">glassnode</text>
</svg></body></html>
